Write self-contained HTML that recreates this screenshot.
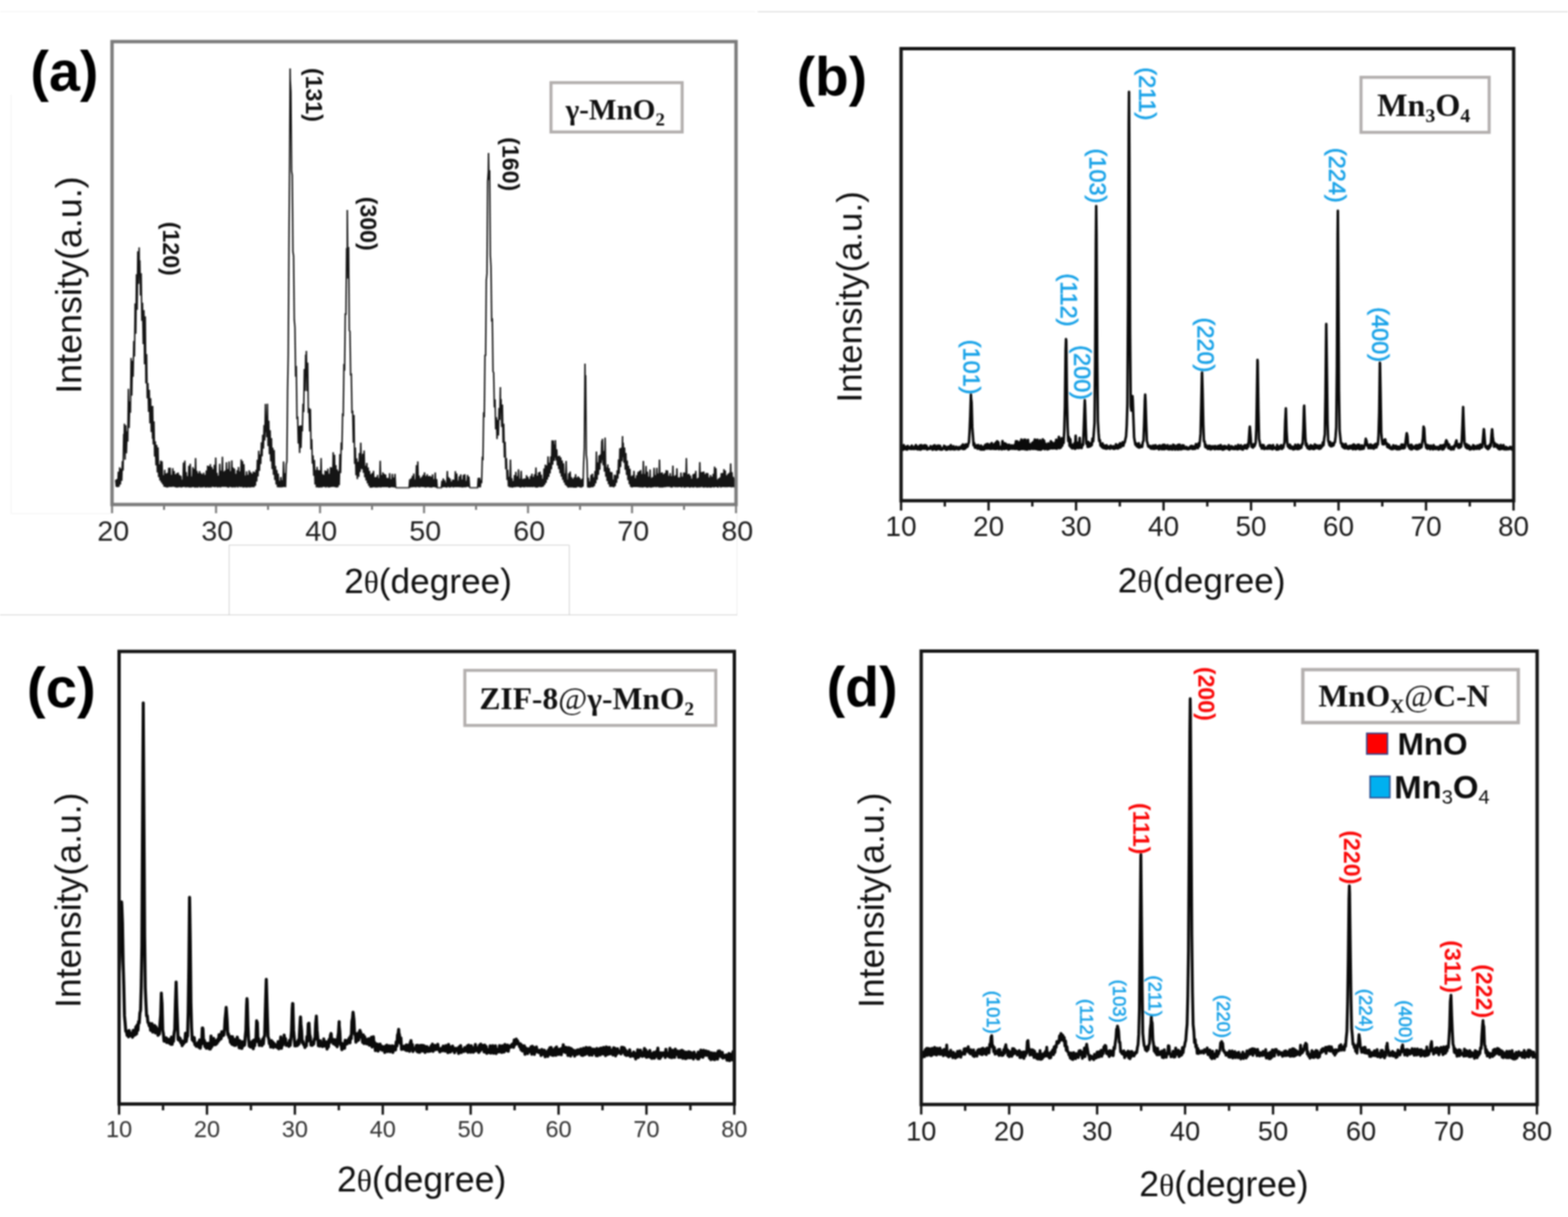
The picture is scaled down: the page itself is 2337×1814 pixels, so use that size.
<!DOCTYPE html>
<html><head><meta charset="utf-8"><title>XRD patterns</title>
<style>html,body{margin:0;padding:0;background:#fff;} body{width:2337px;height:1814px;overflow:hidden;} svg{display:block;filter:blur(0.8px);}</style>
</head><body>
<svg width="2337" height="1814" viewBox="0 0 2337 1814"><path d="M0,17.5 H1126" stroke="#f1f1f1" stroke-width="1.2" fill="none"/>
<path d="M1129,17.5 H2337" stroke="#cdcdcd" stroke-width="1.2" fill="none"/>
<path d="M0,916.5 H1099 M341.5,812.5 V916 M341,812.5 H848.5 M848.5,812.5 V916" stroke="#cbcbcb" stroke-width="1.1" fill="none"/>
<path d="M1098.5,766 V916" stroke="#ececec" stroke-width="1.1" fill="none"/>
<path d="M16.5,141 V765.5 H165" stroke="#f1f1f1" stroke-width="1.2" fill="none"/>
<path d="M172.4,715.1 L173.4,725.6 L174.4,714.2 L175.4,726.2 L176.4,703.1 L177.4,725.4 L178.4,696.5 L179.4,722.2 L180.4,698.6 L181.4,716.8 L182.4,687.3 L183.4,701.5 L184.4,646.7 L184.8,671 L185.4,631.4 L186.4,685.2 L187.4,633.8 L188.4,675.8 L189.4,642.8 L190.4,658.2 L191.4,579.6 L192.4,637.9 L193.4,598.3 L194.4,615.2 L195.4,533.6 L196.4,589.8 L197.4,537.7 L198.4,561.6 L199.4,508.2 L200.4,531.4 L201.4,452.2 L202.4,497.5 L203.4,408.8 L204.4,461.8 L205.4,374.4 L206.4,423.2 L207.4,368.7 L207.6,401.3 L208.4,387.9 L209.4,440.6 L210.4,407.2 L211.4,478.2 L212.4,451.3 L213.5,513.1 L214.5,462.3 L215.5,543 L216.5,471.6 L217.5,571.4 L218.5,527.7 L219.5,593.8 L220.5,571 L221.5,614 L222.5,581 L223.5,631 L224.5,593.5 L225.5,644.1 L226.5,605.2 L227.4,654 L227.5,605 L228.5,662.6 L229.5,628 L230.5,680.6 L231.5,657.9 L232.5,693.7 L233.5,663.1 L234.5,704.1 L235.5,666.7 L236.5,711.3 L237.5,692.1 L238.5,716.1 L239.5,686.5 L240.5,719.3 L241.5,687.6 L242.5,721.9 L243.5,708.3 L244.5,725.5 L245.5,700.2 L246.5,725.9 L247.5,705.8 L248.5,726.8 L249.5,704.9 L250.5,726.4 L251.5,697.4 L252.5,725.7 L253.5,697.1 L254.5,725.9 L255.5,707.9 L256.5,725.8 L257.5,697.8 L258.5,725.5 L259.5,702 L260.5,725.9 L261.5,707.1 L262.5,726.8 L263.5,705.3 L264.5,726.7 L265.5,704.2 L266.5,726.1 L267.5,707.9 L268.5,726.3 L269.5,709.2 L270.5,726.6 L271.5,715 L272.5,726 L273.5,689.5 L274.5,725.8 L275.5,686.6 L276.5,726.4 L277.5,703.6 L278.5,726.1 L279.5,709.7 L280.5,726.1 L281.5,694.2 L282.5,726.7 L283.5,691.4 L284.5,726.8 L285.5,710.2 L286.5,726.2 L287.5,696.4 L288.5,725.9 L289.5,698.7 L290.5,727 L291.5,682.8 L292.5,726.5 L293.5,701.8 L294.5,727 L295.5,705.2 L296.5,725.7 L297.5,702.1 L298.5,726.7 L299.5,705.3 L300.5,726.4 L301.5,706.9 L302.5,726.4 L303.5,704.5 L304.5,725.7 L305.5,707.9 L306.5,726.9 L307.5,701.3 L308.5,726.1 L309.5,694.1 L310.5,726.7 L311.5,694.7 L312.5,726.5 L313.5,691.9 L314.5,726.6 L315.5,696 L316.5,725.5 L317.5,699.2 L318.5,725.9 L319.5,692.8 L320.5,726.3 L321.5,682.1 L322.5,725.6 L323.5,704.7 L324.5,726.8 L325.5,709.1 L326.5,725.9 L327.5,691.2 L328.5,726.7 L329.5,701.5 L330.5,725.8 L331.5,680.8 L332.5,725.6 L333.5,702.9 L334.5,725.8 L335.5,701.4 L336.5,725.6 L337.5,689.1 L338.5,726.3 L339.5,699.4 L340.5,726.9 L341.5,687.7 L342.5,725.8 L343.5,702.2 L344.5,726.1 L345.5,686.3 L346.5,726.8 L347.5,696.8 L348.5,726.3 L349.5,698.6 L350.5,726.6 L351.5,706.3 L352.5,725.6 L353.5,700.9 L354.5,726.7 L355.5,696.1 L356.5,725.5 L357.5,702.6 L358.5,726.2 L359.5,684.7 L360.5,725.8 L361.5,687.3 L362.5,726.9 L363.5,691.7 L364.5,726.3 L365.5,708.9 L366.5,726.7 L367.5,702.5 L368.5,726.7 L369.5,707.8 L370.5,726.3 L371.5,701 L372.5,726.7 L373.6,703.9 L374.6,726.3 L375.6,706 L376.6,726.1 L377.6,702.9 L378.6,726.2 L379.6,703.9 L380.6,724.2 L381.6,700.3 L382.6,717.8 L383.6,685.4 L384.6,710.3 L385.6,671.8 L386.6,702 L387.6,677.3 L388.6,691.7 L389.6,659.4 L390.6,680.3 L391.6,648 L392.6,668.7 L393.6,633.5 L394.6,656.4 L395.6,602.1 L396.4,644.1 L396.6,620.2 L397.6,651.8 L398.6,601.8 L399.6,664.9 L400.6,627 L401.6,677.1 L402.6,641.3 L403.6,687.8 L404.6,653 L405.6,699.2 L406.6,667.2 L407.6,707.7 L408.6,670.7 L409.6,715.4 L410.6,694.5 L411.6,722.3 L412.6,700.5 L413.6,726.3 L414.6,705.7 L415.6,726.4 L416.6,716.9 L417.6,726.4 L418.6,711.1 L419.6,726.3 L420.6,715.9 L421.6,726.1 L422.6,687.9 L423.6,725.6 L424.6,705.2 L425.6,726.2 L426.6,692.2 L427.6,687.9 L428.6,582.8 L429.6,528.5 L430.6,370.5 L431.6,244.4 L432.4,102.1 L432.6,118.4 L433.6,137.4 L434.6,255 L435.6,261.1 L436.6,374.9 L437.6,381.9 L438.6,476.4 L439.6,488.2 L440.6,561.4 L441.6,545.4 L442.6,624.7 L443.6,620.7 L444.6,661.3 L445.6,635.1 L446.6,675.2 L447.6,634.1 L448.6,667.7 L449.6,634.2 L450.6,642.9 L451.6,601.9 L452.6,614.3 L453.6,550 L454.6,582.7 L455.6,528.5 L456.1,559 L456.6,522.9 L457.6,583.1 L458.6,540.4 L459.6,615.6 L460.6,608.1 L461.6,643.3 L462.6,609.6 L463.6,670 L464.6,654.6 L465.6,691.1 L466.6,678.9 L467.6,709.3 L468.6,685.6 L469.6,722.1 L470.6,700.5 L471.6,726.5 L472.6,695.8 L473.6,726.4 L474.6,700.6 L475.6,727 L476.6,701.1 L477.6,726.4 L478.6,682.9 L479.6,726.7 L480.6,706.5 L481.6,725.7 L482.6,707.9 L483.6,725.7 L484.6,701.3 L485.6,726.7 L486.6,702 L487.6,725.8 L488.6,698.5 L489.6,726.8 L490.6,706.2 L491.6,726.4 L492.6,696.4 L493.6,726 L494.6,696.8 L495.6,725.7 L496.6,674.1 L497.6,725.7 L498.6,677.8 L499.6,726.3 L500.6,693.4 L501.6,726.7 L502.6,699.8 L503.6,726.1 L504.6,702.2 L505.6,723.2 L506.6,676.8 L507.6,705.3 L508.6,659.4 L509.6,670.7 L510.6,617.9 L511.6,618.6 L512.6,542.6 L513.6,552.4 L514.6,467.1 L515.6,469.2 L516.6,370.9 L517.6,371.2 L517.6,313 L518.6,415.3 L519.6,368.3 L520.6,492.7 L521.6,493.9 L522.6,559.7 L523.6,556.4 L524.6,616 L525.6,612.1 L526.6,659.9 L527.6,618.4 L528.6,691.4 L529.6,667.1 L530.6,708.5 L531.6,683.3 L532.6,714.2 L533.6,688.2 L534.7,710.8 L535.7,675.4 L536.7,703.5 L537.7,659.8 L538.7,697.1 L539,697 L539.7,699.2 L540.7,676.4 L541.7,704.6 L542.7,671.6 L543.7,711.4 L544.7,694.4 L545.7,716.3 L546.7,690.1 L547.7,720.5 L548.7,696.8 L549.7,724.2 L550.7,701.8 L551.7,726.9 L552.7,706.8 L553.7,727 L554.7,705 L555.7,726.4 L556.7,701.7 L557.7,726.1 L558.7,711.2 L559.7,726.6 L560.7,711.1 L561.7,726.8 L562.7,707.8 L563.7,726.3 L564.7,712.5 L565.7,726.2 L566.7,686.9 L567.7,726.8 L568.7,708 L569.7,726 L570.7,704 L571.7,726.3 L572.7,706.4 L573.7,725.9 L574.7,707.2 L575.7,726.2 L576.7,712.4 L577.7,726 L578.7,712.6 L579.7,726.9 L580.7,705.2 L581.7,726.6 L582.7,714.4 L583.7,726 L584.7,706.2 L585.7,726.5 L586.7,711.7 L587.7,726.4 L588.7,706.4 L589.7,726.2 L590.7,727 L591.7,727 L592.7,727 L593.7,727 L594.7,727 L595.7,727 L596.7,727 L597.7,727 L598.7,727 L599.7,727 L600.7,727 L601.7,727 L602.7,727 L603.7,727 L604.7,727 L605.7,727 L606.7,727 L607.7,727 L608.7,727 L609.7,727 L610.7,714.6 L611.7,726.6 L612.7,712.8 L613.7,726.3 L614.7,709.3 L615.7,726.2 L616.7,705.7 L617.7,726 L618.7,714.9 L619.7,726.4 L620.7,693.3 L621.7,725.6 L622.7,687.9 L623.7,726.3 L624.7,708.8 L625.7,726.4 L626.7,712.5 L627.7,725.6 L628.7,710.5 L629.7,725.9 L630.7,707.8 L631.7,725.9 L632.7,704 L633.7,726.8 L634.7,709.6 L635.7,726.4 L636.7,706.9 L637.7,725.9 L638.7,709.7 L639.7,726.5 L640.7,709.3 L641.7,726.7 L642.7,710.5 L643.7,726.8 L644.7,707 L645.7,725.9 L646.7,714.3 L647.7,726.1 L648.7,704.4 L649.7,726.7 L650.7,714 L651.7,727 L652.7,727 L653.7,727 L654.7,727 L655.7,727 L656.7,727 L657.7,727 L658.7,716.6 L659.7,726.3 L660.7,713.1 L661.7,726.1 L662.7,715.9 L663.7,726.1 L664.7,719.3 L665.7,726.9 L666.7,702 L667.7,725.6 L668.7,711.3 L669.7,726.6 L670.7,713.3 L671.7,726.3 L672.7,717.9 L673.7,725.6 L674.7,714.9 L675.7,726.6 L676.7,715.2 L677.7,725.8 L678.7,702.2 L679.7,726.3 L680.7,705.7 L681.7,725.9 L682.7,716.6 L683.7,726.1 L684.7,709.9 L685.7,726.2 L686.7,707.1 L687.7,726.4 L688.7,714.9 L689.7,726.7 L690.7,707.9 L691.7,726.1 L692.7,706.8 L693.7,726.4 L694.7,716.9 L695.8,725.7 L696.8,707.8 L697.8,725.8 L698.8,710.4 L699.8,725.9 L700.8,727 L701.8,727 L702.8,727 L703.8,727 L704.8,727 L705.8,727 L706.8,727 L707.8,727 L708.8,727 L709.8,727 L710.8,727 L711.8,727 L712.8,712.3 L713.8,726.1 L714.8,712 L715.8,726.4 L716.8,715.5 L717.8,720.3 L718.8,684 L719.8,685.9 L720.8,614.4 L721.8,621.9 L722.8,529.7 L723.8,529.6 L724.8,417.5 L725.8,407.5 L726.8,270.4 L727.8,255.5 L728.1,228.1 L728.8,268.2 L729.8,253.8 L730.8,380.5 L731.8,397.7 L732.8,477.4 L733.8,476.5 L734.8,553.8 L735.8,555.5 L736.8,607.3 L737.8,595.3 L738.8,639.9 L739.8,621.7 L740.8,654.5 L741.8,625.9 L742.8,649.3 L743.8,608 L744.8,626 L745.8,577.1 L745.9,612.1 L746.8,594.8 L747.8,636.5 L748.8,603 L749.8,660.1 L750.8,631.4 L751.8,681.9 L752.8,658.5 L753.8,699.5 L754.8,682.7 L755.8,715.4 L756.8,700.3 L757.8,725.3 L758.8,710.9 L759.8,726.4 L760.8,685 L761.8,726.5 L762.8,712.8 L763.8,727 L764.8,717 L765.8,726.2 L766.8,708 L767.8,726.3 L768.8,703.3 L769.8,725.6 L770.8,709.7 L771.8,725.7 L772.8,699.6 L773.8,725.9 L774.8,713.5 L775.8,726.9 L776.8,701.7 L777.8,725.8 L778.8,714.3 L779.8,726.2 L780.8,713.3 L781.8,726.3 L782.8,713.4 L783.8,725.7 L784.8,708.4 L785.8,726.2 L786.8,710.8 L787.8,725.9 L788.8,714 L789.8,726.1 L790.8,709.5 L791.8,725.9 L792.8,706 L793.8,726.2 L794.8,710.9 L795.8,725.8 L796.8,706.9 L797.8,726.4 L798.8,696.7 L799.8,727 L800.8,709.1 L801.8,726.5 L802.8,704.1 L803.8,725.6 L804.8,703.1 L805.8,726.1 L806.8,707.6 L807.8,725.8 L808.8,713.9 L809.8,725.2 L810.8,698.2 L811.8,722.8 L812.8,692.5 L813.8,719.6 L814.8,693.7 L815.8,715 L816.8,680.4 L817.8,710.9 L818.8,689.9 L819.8,705.8 L820.8,680.4 L821.8,699.5 L822.8,656.4 L823.8,692.6 L824.8,656.5 L825.8,687 L826.8,662.5 L827.3,682.1 L827.8,656.1 L828.8,686.5 L829.8,669.8 L830.8,693.8 L831.8,680.1 L832.8,699.3 L833.8,679.4 L834.8,705.5 L835.8,681.8 L836.8,710.4 L837.8,686.3 L838.8,715.3 L839.8,690.5 L840.8,719.3 L841.8,705.9 L842.8,723 L843.8,687.1 L844.8,724.8 L845.8,715.1 L846.8,726.9 L847.8,705.4 L848.8,726.5 L849.8,702.7 L850.8,726.8 L851.8,711.3 L852.8,726.3 L853.8,713.7 L854.8,727 L855.9,711.3 L856.9,726.9 L857.9,706.7 L858.9,727 L859.9,711.8 L860.9,725.6 L861.9,710.1 L862.9,725.9 L863.9,712.1 L864.9,726.7 L865.9,714.5 L866.9,726.6 L867.9,713.4 L868.9,725.5 L869.9,689.8 L870.9,667 L871.9,541.9 L872.2,575.4 L872.9,559.2 L873.9,678.2 L874.9,686.1 L875.9,726.4 L876.9,712.4 L877.9,726.9 L878.9,717.9 L879.9,726.7 L880.9,707.9 L881.9,726.2 L882.9,706 L883.9,726.3 L884.9,711.5 L885.9,724.5 L886.9,702.1 L887.9,720.4 L888.9,673.1 L889.9,715.1 L890.9,689.3 L891.9,707.8 L892.9,678.8 L893.9,700.3 L894.9,677.2 L895.9,690.2 L896.9,656.7 L897,685.8 L897.9,654.1 L898.9,693.5 L899.9,672.4 L900.9,702.9 L901.9,652.2 L902.9,710.5 L903.9,696.5 L904.9,717 L905.9,692.2 L906.9,721.7 L907.9,697.9 L908.9,725.6 L909.9,703.3 L910.9,725.6 L911.9,703.7 L912.9,725.6 L913.9,715.2 L914.9,726.4 L915.9,707.6 L916.9,724.8 L917.9,708.2 L918.9,719.6 L919.9,701 L920.9,713.5 L921.9,684.7 L922.9,706.3 L923.9,668.4 L924.9,696.3 L925.9,667.3 L926.9,687.4 L927.9,650.1 L928,681.3 L928.9,659.7 L929.9,689.8 L930.9,667.1 L931.9,700.1 L932.9,675.3 L933.9,708 L934.9,686.6 L935.9,715.6 L936.9,694.4 L937.9,721.6 L938.9,698.7 L939.9,725.6 L940.9,709.6 L941.9,726.6 L942.9,708.6 L943.9,725.9 L944.9,701.9 L945.9,725.9 L946.9,712.9 L947.9,726 L948.9,708.2 L949.9,726 L950.9,703.5 L951.9,726.3 L952.9,702 L953.9,726.4 L954.9,700.6 L955.9,726.4 L956.9,706.5 L957.9,726.8 L958.9,687 L959.9,726.3 L960.9,706.5 L961.9,725.9 L962.9,694.5 L963.9,726.9 L964.9,703 L965.9,726.7 L966.9,710.5 L967.9,726.3 L968.9,699.7 L969.9,726.9 L970.9,712.3 L971.9,726.4 L972.9,711 L973.9,726.3 L974.9,697.3 L975.9,725.8 L976.9,708.2 L977.9,726.3 L978.9,697.3 L979.9,725.6 L980.9,705.9 L981.9,726.4 L982.9,685.1 L983.9,726.6 L984.9,704.9 L985.9,726.6 L986.9,704.1 L987.9,726.7 L988.9,706.8 L989.9,726.1 L990.9,705.1 L991.9,726.1 L992.9,700.9 L993.9,725.7 L994.9,701.4 L995.9,725.8 L996.9,709.3 L997.9,725.6 L998.9,705.3 L999.9,726.7 L1000.9,709.7 L1001.9,726.7 L1002.9,694.1 L1003.9,725.5 L1004.9,709.6 L1005.9,726.2 L1006.9,708.2 L1007.9,726.1 L1008.9,698 L1009.9,726.3 L1010.9,711.7 L1011.9,725.8 L1012.9,711.7 L1013.9,725.9 L1014.9,704.3 L1015.9,726.7 L1017,710.6 L1018,725.6 L1019,704.4 L1020,726.9 L1021,704.5 L1022,726.4 L1023,682.9 L1024,726.3 L1025,706.7 L1026,725.9 L1027,706.3 L1028,726.9 L1029,708.8 L1030,726.1 L1031,713.7 L1032,726.5 L1033,706.9 L1034,726.8 L1035,705.7 L1036,725.8 L1037,701.7 L1038,726.6 L1039,713.4 L1040,726.6 L1041,712.2 L1042,726.4 L1043,688.7 L1044,726.5 L1045,703.7 L1046,725.6 L1047,703.4 L1048,726.6 L1049,702.9 L1050,726.7 L1051,706.6 L1052,726.2 L1053,704.7 L1054,726.9 L1055,705.2 L1056,726.4 L1057,711.5 L1058,726.6 L1059,708.1 L1060,726.9 L1061,710.5 L1062,726 L1063,706.2 L1064,726.8 L1065,695.5 L1066,725.9 L1067,697.8 L1068,725.8 L1069,714.9 L1070,726.9 L1071,713 L1072,725.5 L1073,711.6 L1074,726.8 L1075,705.4 L1076,726.1 L1077,705 L1078,725.9 L1079,699.4 L1080,726.3 L1081,701.2 L1082,726.3 L1083,708.5 L1084,726.1 L1085,706.2 L1086,726 L1087,704.5 L1088,726 L1089,690.8 L1090,726.5 L1091,703.9 L1092,726.1 L1093,710.7 L1094,726.3 L1095,712.8 L1096,726.7 L1097,707.7" stroke="#151515" stroke-width="2.2" fill="none" stroke-linejoin="miter"/>
<path d="M590.1,727.8 H610.3 M651.4,727.8 H658.4 M700.2,727.8 H712.6" stroke="#888" stroke-width="1.5"/>
<rect x="167" y="62" width="930" height="690" fill="none" stroke="#7b7b7b" stroke-width="5"/>
<path d="M167,752 V765 M244.5,752 V760 M322,752 V765 M399.5,752 V760 M477,752 V765 M554.5,752 V760 M632,752 V765 M709.5,752 V760 M787,752 V765 M864.5,752 V760 M942,752 V765 M1019.5,752 V760 M1097,752 V765" stroke="#7b7b7b" stroke-width="3" fill="none"/>
<text x="168.8" y="806" font-family="'Liberation Sans', Arial, sans-serif" font-size="42.8" font-weight="normal" fill="#222" text-anchor="middle" >20</text>
<text x="323.8" y="806" font-family="'Liberation Sans', Arial, sans-serif" font-size="42.8" font-weight="normal" fill="#222" text-anchor="middle" >30</text>
<text x="478.8" y="806" font-family="'Liberation Sans', Arial, sans-serif" font-size="42.8" font-weight="normal" fill="#222" text-anchor="middle" >40</text>
<text x="633.8" y="806" font-family="'Liberation Sans', Arial, sans-serif" font-size="42.8" font-weight="normal" fill="#222" text-anchor="middle" >50</text>
<text x="788.8" y="806" font-family="'Liberation Sans', Arial, sans-serif" font-size="42.8" font-weight="normal" fill="#222" text-anchor="middle" >60</text>
<text x="943.8" y="806" font-family="'Liberation Sans', Arial, sans-serif" font-size="42.8" font-weight="normal" fill="#222" text-anchor="middle" >70</text>
<text x="1098.8" y="806" font-family="'Liberation Sans', Arial, sans-serif" font-size="42.8" font-weight="normal" fill="#222" text-anchor="middle" >80</text>
<text x="513" y="883.6" font-family="'Liberation Sans', Arial, sans-serif" font-size="52.5" fill="#111">2<tspan font-family="'Liberation Serif', 'Times New Roman', serif" font-size="46.7">θ</tspan>(degree)</text>
<text transform="translate(121,425) rotate(-90)" font-family="'Liberation Sans', Arial, sans-serif" font-size="53.5" font-weight="normal" fill="#111" text-anchor="middle">Intensity(a.u.)</text>
<text x="45.3" y="135.2" font-family="'Liberation Sans', Arial, sans-serif" font-size="83" font-weight="bold" fill="#000" text-anchor="start" >(a)</text>
<rect x="821.2" y="123.2" width="195.5" height="73.5" fill="#fff" stroke="#b3afae" stroke-width="4.5"/>
<text x="843" y="177.6" font-family="'Liberation Serif', 'Times New Roman', serif" font-size="43.5" font-weight="bold" fill="#111">γ-MnO<tspan font-size="28" dy="9">2</tspan></text>
<text transform="translate(243.2,370.8) rotate(90)" font-family="'Liberation Sans', Arial, sans-serif" font-size="34.5" font-weight="bold" fill="#111" text-anchor="middle">(120)</text>
<text transform="translate(455.8,141.5) rotate(90)" font-family="'Liberation Sans', Arial, sans-serif" font-size="34.5" font-weight="bold" fill="#111" text-anchor="middle">(131)</text>
<text transform="translate(536.9,333.5) rotate(90)" font-family="'Liberation Sans', Arial, sans-serif" font-size="34.5" font-weight="bold" fill="#111" text-anchor="middle">(300)</text>
<text transform="translate(749,244.8) rotate(90)" font-family="'Liberation Sans', Arial, sans-serif" font-size="34.5" font-weight="bold" fill="#111" text-anchor="middle">(160)</text>
<path d="M1343,666.9 L1344,670.1 L1345,666.4 L1346,670.3 L1347,663.5 L1348,669.4 L1349,667.7 L1350,669.6 L1351,665.8 L1352,670.1 L1353,664.7 L1354,668.7 L1355,667.9 L1356,668.7 L1357,666.1 L1358,669.2 L1359,664.1 L1360,669 L1361,668.1 L1362,669.3 L1363,666 L1364,668.9 L1365,663.4 L1366,669.1 L1367,665.4 L1368,669.9 L1369,667.1 L1370,669.5 L1371,664 L1372,670.3 L1373,663.5 L1374,669.1 L1375,665 L1376,668.6 L1377,663.9 L1378,669 L1379,663.6 L1380,668.7 L1381,664.6 L1382,670.1 L1383,667.8 L1384,669.1 L1385,667.8 L1386,668.9 L1387,665 L1388,668.6 L1389,667.5 L1390,670.3 L1391,664.6 L1392,668.9 L1393,663.7 L1394,669.9 L1395,667.4 L1396,670.3 L1397,664.3 L1398,669 L1399,664.1 L1400,669.5 L1401.1,664.6 L1402.1,670.1 L1403.1,668 L1404.1,670.1 L1405.1,667.9 L1406.1,668.6 L1407.1,664.5 L1408.1,668.8 L1409.1,665.6 L1410.1,670.3 L1411.1,667.8 L1412.1,670.1 L1413.1,666 L1414.1,668.8 L1415.1,665.7 L1416.1,669.8 L1417.1,663.5 L1418.1,669.5 L1419.1,666 L1420.1,669.3 L1421.1,665.2 L1422.1,669.9 L1423.1,668.1 L1424.1,669.6 L1425.1,665.9 L1426.1,668.6 L1427.1,667.8 L1428.1,669.8 L1429.1,666.4 L1430.1,669.4 L1431.1,667.2 L1432.1,668.1 L1433.1,664.6 L1434.1,668.8 L1435.1,662.5 L1436.1,669.4 L1437.1,667.3 L1438.1,668.9 L1439.1,662.5 L1440.1,667.2 L1441.1,662.5 L1442.1,665.8 L1443.1,661.7 L1444.1,659.3 L1445.1,643.7 L1446.1,620.1 L1447.1,588.2 L1447.3,593.8 L1448.1,599.8 L1449.1,636.4 L1450.1,649.9 L1451.1,663.9 L1452.1,660.9 L1453.1,667.3 L1454.1,664.8 L1455.1,667.2 L1456.1,663.8 L1457.1,668.8 L1458.1,663.3 L1459.1,668.3 L1460.1,666.5 L1461.1,669.9 L1462.1,664.1 L1463.1,670.1 L1464.1,666 L1465.1,670.1 L1466.1,666.3 L1467.1,670 L1468.1,663.4 L1469.1,668.5 L1470.1,662.1 L1471.1,668.8 L1472.1,661.6 L1473.1,668.4 L1474.1,664 L1475.1,668.9 L1476.1,662.2 L1477.1,669 L1478.1,660.4 L1479.1,668.7 L1480.1,666.1 L1481.1,669 L1482.1,661.9 L1483.1,669.2 L1484.1,659.8 L1485.1,669.2 L1486.1,657.6 L1487.1,668.5 L1488.1,659.2 L1489.1,669.6 L1490.1,666 L1491.1,668.6 L1492.1,666 L1493.1,669.8 L1494.1,657.4 L1495.1,668.8 L1496.1,660.6 L1497.1,669.4 L1498.1,660.9 L1499.1,668.7 L1500.1,662.5 L1501.1,668.6 L1502.1,663.4 L1503.1,670.2 L1504.1,662.9 L1505.1,669.2 L1506.1,664.6 L1507.1,668.6 L1508.1,663.8 L1509.1,668.9 L1510.1,664.9 L1511.1,668.7 L1512.1,663.1 L1513.1,669.2 L1514.2,657.7 L1515.2,668.7 L1516.2,657.9 L1517.2,669.5 L1518.2,662.3 L1519.2,670.1 L1520.2,658.7 L1521.2,669.4 L1522.2,655.2 L1523.2,669.1 L1524.2,664.3 L1525.2,669 L1526.2,655.5 L1527.2,669.7 L1528.2,655.3 L1529.2,669.9 L1530.2,660.3 L1531.2,670.1 L1532.2,655.6 L1533.2,668.8 L1534.2,661.9 L1535.2,669.6 L1536.2,663.2 L1537.2,668.6 L1538.2,660.5 L1539.2,669 L1540.2,658.9 L1541.2,668.8 L1542.2,655.1 L1543.2,669.1 L1544.2,656.1 L1545.2,669.3 L1546.2,655.4 L1547.2,670 L1548.2,661.4 L1549.2,670.1 L1550.2,656.2 L1551.2,670.3 L1552.2,661.5 L1553.2,669 L1554.2,654.9 L1555.2,668.4 L1556.2,656.9 L1557.2,669.6 L1558.2,661.5 L1559.2,668.6 L1560.2,663.8 L1561.2,669.9 L1562.2,660.8 L1563.2,669.2 L1564.2,665 L1565.2,668.2 L1566.2,657.6 L1567.2,668.2 L1568.2,659.7 L1569.2,668.3 L1570.2,662.6 L1571.2,668 L1572.2,660 L1573.2,668.3 L1574.2,655.5 L1575.2,668.8 L1576.2,662.6 L1577.2,667.4 L1578.2,651.2 L1579.2,668.1 L1580.2,655.7 L1581.2,667 L1582.2,653.2 L1583.2,664.3 L1584.2,655.7 L1585.2,660.2 L1586.2,643 L1587.2,606 L1588.2,522.9 L1588.8,505.5 L1589.2,508.3 L1590.2,594.2 L1591.2,636 L1592.2,657.5 L1593.2,651.4 L1594.2,664.7 L1595.2,654.6 L1596.2,666.9 L1597.2,662.6 L1598.2,668.3 L1599.2,664.5 L1600.2,667.7 L1601.2,660.8 L1602.2,669.1 L1603.2,649.3 L1604.2,667.8 L1605.2,660.3 L1606.2,667.6 L1607.2,659.6 L1608.2,667.8 L1609.2,652.7 L1610.2,667 L1611.2,663.4 L1612.2,667.7 L1613.2,662.4 L1614.2,663.2 L1615.2,641.8 L1616.2,612.4 L1616.8,596.5 L1617.2,603.4 L1618.2,636.4 L1619.2,661.4 L1620.2,660.6 L1621.2,666.2 L1622.2,658.7 L1623.2,665.8 L1624.2,661 L1625.2,665.1 L1626.2,660.4 L1627.2,663.6 L1628.2,653.7 L1629.3,657.9 L1630.3,644.3 L1631.3,630.6 L1632.3,541.1 L1633.3,362.7 L1633.8,307.2 L1634.3,348.7 L1635.3,533 L1636.3,627.5 L1637.3,645.2 L1638.3,657.4 L1639.3,656 L1640.3,664.3 L1641.3,662.8 L1642.3,666.6 L1643.3,660.9 L1644.3,667.8 L1645.3,663.8 L1646.3,668.1 L1647.3,664.4 L1648.3,668.7 L1649.3,663.6 L1650.3,668.6 L1651.3,665.6 L1652.3,667.9 L1653.3,666 L1654.3,668.9 L1655.3,664.1 L1656.3,667.6 L1657.3,665.8 L1658.3,668.4 L1659.3,665.1 L1660.3,669.1 L1661.3,665.6 L1662.3,668.5 L1663.3,662.1 L1664.3,668 L1665.3,665.7 L1666.3,668.5 L1667.3,662.9 L1668.3,667.2 L1669.3,660.7 L1670.3,666.7 L1671.3,661.8 L1672.3,664.7 L1673.3,659 L1674.3,664.5 L1675.3,659.9 L1676.3,659.3 L1677.3,654.6 L1678.3,650.5 L1679.3,634.6 L1680.3,601.2 L1681.3,453.4 L1682.3,184.1 L1682.7,136.8 L1683.3,235.4 L1684.3,497.3 L1685.3,606.1 L1686.3,612 L1687.3,596 L1687.9,590.3 L1688.3,596 L1689.3,624.6 L1690.3,651.9 L1691.3,657.7 L1692.3,662.8 L1693.3,660.7 L1694.3,665 L1695.3,664.2 L1696.3,666.5 L1697.3,660.6 L1698.3,667.2 L1699.3,665 L1700.3,666.1 L1701.3,663.7 L1702.3,666 L1703.3,659 L1704.3,656.9 L1705.3,631.9 L1706.3,597.1 L1706.8,588.2 L1707.3,597.3 L1708.3,630.5 L1709.3,657.4 L1710.3,660.5 L1711.3,665.5 L1712.3,664.6 L1713.3,666.8 L1714.3,664.8 L1715.3,668.6 L1716.3,665.6 L1717.3,668.6 L1718.3,664.3 L1719.3,669 L1720.3,664.1 L1721.3,668.8 L1722.3,663.7 L1723.3,668.4 L1724.3,665.6 L1725.3,668.4 L1726.3,665 L1727.3,669.9 L1728.3,663.8 L1729.3,668.6 L1730.3,665.5 L1731.3,669.6 L1732.3,663.6 L1733.3,669.3 L1734.3,663 L1735.3,669.7 L1736.3,663.4 L1737.3,668.9 L1738.3,667.4 L1739.3,668.7 L1740.3,663.5 L1741.3,669.7 L1742.3,666.2 L1743.4,669.8 L1744.4,664.3 L1745.4,669.3 L1746.4,667.6 L1747.4,670.1 L1748.4,662.9 L1749.4,668.5 L1750.4,663.8 L1751.4,670.2 L1752.4,666 L1753.4,668.7 L1754.4,663.9 L1755.4,670.1 L1756.4,663 L1757.4,669.6 L1758.4,663 L1759.4,669.7 L1760.4,665.8 L1761.4,669.5 L1762.4,663.7 L1763.4,668.6 L1764.4,664.2 L1765.4,668.9 L1766.4,667.6 L1767.4,668.7 L1768.4,666.2 L1769.4,669.5 L1770.4,667.7 L1771.4,669.6 L1772.4,667.3 L1773.4,668.7 L1774.4,665.2 L1775.4,668.3 L1776.4,664.6 L1777.4,669.2 L1778.4,665.7 L1779.4,669 L1780.4,665.5 L1781.4,669 L1782.4,661.9 L1783.4,667.1 L1784.4,662.9 L1785.4,668 L1786.4,660.7 L1787.4,665.2 L1788.4,657.4 L1789.4,646.4 L1790.4,603.3 L1791.4,556.2 L1791.6,555.3 L1792.4,583.3 L1793.4,632.2 L1794.4,657.9 L1795.4,658 L1796.4,666.3 L1797.4,663 L1798.4,667.4 L1799.4,666 L1800.4,669.1 L1801.4,664.4 L1802.4,668.6 L1803.4,664.6 L1804.4,669.8 L1805.4,665.8 L1806.4,669 L1807.4,665.2 L1808.4,668.3 L1809.4,665.4 L1810.4,669.6 L1811.4,664.8 L1812.4,668.9 L1813.4,667.8 L1814.4,669.2 L1815.4,664.6 L1816.4,669.2 L1817.4,664.4 L1818.4,669.1 L1819.4,663.3 L1820.4,669.2 L1821.4,665.9 L1822.4,670.2 L1823.4,665.1 L1824.4,669.7 L1825.4,664.8 L1826.4,668.7 L1827.4,665.5 L1828.4,668.4 L1829.4,667.4 L1830.4,669.2 L1831.4,663.5 L1832.4,670.3 L1833.4,666 L1834.4,668.8 L1835.4,665.2 L1836.4,668.9 L1837.4,666.1 L1838.4,669.3 L1839.4,667.8 L1840.4,669.3 L1841.4,664.8 L1842.4,669 L1843.4,666.9 L1844.4,669.7 L1845.4,663.1 L1846.4,669.1 L1847.4,666.6 L1848.4,668.6 L1849.4,663.6 L1850.4,669.5 L1851.4,667.1 L1852.4,670.1 L1853.4,664.9 L1854.4,668.1 L1855.4,663.5 L1856.4,668.1 L1857.5,663.6 L1858.5,668.7 L1859.5,662.2 L1860.5,666 L1861.5,653 L1862.5,638 L1862.8,635.8 L1863.5,644.9 L1864.5,658.2 L1865.5,666 L1866.5,664.3 L1867.5,667.2 L1868.5,662.1 L1869.5,665.3 L1870.5,663 L1871.5,660 L1872.5,639.1 L1873.5,580.5 L1874.2,536.5 L1874.5,539.8 L1875.5,609 L1876.5,654.6 L1877.5,658.7 L1878.5,664.9 L1879.5,664.1 L1880.5,668.5 L1881.5,663.1 L1882.5,668.3 L1883.5,663.7 L1884.5,669.3 L1885.5,667 L1886.5,668.5 L1887.5,667.4 L1888.5,668.9 L1889.5,664.9 L1890.5,668.6 L1891.5,663.8 L1892.5,668.6 L1893.5,663.9 L1894.5,668.9 L1895.5,665.2 L1896.5,669.6 L1897.5,663.3 L1898.5,668.7 L1899.5,666.8 L1900.5,668.2 L1901.5,667.2 L1902.5,670.1 L1903.5,663.2 L1904.5,670.1 L1905.5,667.8 L1906.5,669.3 L1907.5,665.1 L1908.5,667.9 L1909.5,663.5 L1910.5,669.2 L1911.5,665 L1912.5,667.6 L1913.5,662.6 L1914.5,659.8 L1915.5,628.1 L1916.4,611.1 L1916.5,608.6 L1917.5,642.6 L1918.5,658.6 L1919.5,665.5 L1920.5,665.8 L1921.5,667.7 L1922.5,662.8 L1923.5,668.5 L1924.5,665.4 L1925.5,668.6 L1926.5,666.3 L1927.5,669.9 L1928.5,665.9 L1929.5,669.4 L1930.5,663 L1931.5,668.6 L1932.5,666.6 L1933.5,669.4 L1934.5,662.7 L1935.5,669.3 L1936.5,663.9 L1937.5,668.4 L1938.5,666 L1939.5,667.3 L1940.5,661.6 L1941.5,661.8 L1942.5,641.1 L1943.5,606.9 L1943.8,604.7 L1944.5,625.5 L1945.5,651.8 L1946.5,664 L1947.5,661.2 L1948.5,667.6 L1949.5,665 L1950.5,669 L1951.5,665.6 L1952.5,669.4 L1953.5,663.5 L1954.5,668 L1955.5,664.6 L1956.5,669 L1957.5,665.6 L1958.5,669.4 L1959.5,662.4 L1960.5,668.1 L1961.5,663.6 L1962.5,667.7 L1963.5,664.3 L1964.5,668.2 L1965.5,664.4 L1966.5,669 L1967.5,663.9 L1968.5,668.3 L1969.5,664.5 L1970.5,665.7 L1971.6,659.3 L1972.6,663.7 L1973.6,653.7 L1974.6,647.6 L1975.6,585.5 L1976.6,486.9 L1976.7,482.8 L1977.6,549.3 L1978.6,629.4 L1979.6,656.7 L1980.6,659.8 L1981.6,663.8 L1982.6,658.8 L1983.6,665.3 L1984.6,662.6 L1985.6,664.9 L1986.6,660.7 L1987.6,663.9 L1988.6,659.8 L1989.6,659.2 L1990.6,651 L1991.6,636.6 L1992.6,546.3 L1993.6,351.3 L1994,314.2 L1994.6,396.6 L1995.6,581.6 L1996.6,642 L1997.6,651.4 L1998.6,660.7 L1999.6,660.7 L2000.6,665.7 L2001.6,661.7 L2002.6,667.5 L2003.6,665.8 L2004.6,668.4 L2005.6,661.7 L2006.6,667.7 L2007.6,664.9 L2008.6,668.8 L2009.6,665.9 L2010.6,668.8 L2011.6,664.5 L2012.6,668.1 L2013.6,664.7 L2014.6,668.2 L2015.6,663.7 L2016.6,669.6 L2017.6,662.5 L2018.6,668.9 L2019.6,663.7 L2020.6,669.7 L2021.6,665.3 L2022.6,668.6 L2023.6,662.9 L2024.6,668.7 L2025.6,662.8 L2026.6,669.7 L2027.6,665.1 L2028.6,669.3 L2029.6,663.8 L2030.6,669.1 L2031.6,665.2 L2032.6,668.6 L2033.6,664.2 L2034.6,661.7 L2035.6,654 L2035.9,656.5 L2036.6,656.4 L2037.6,664.2 L2038.6,662.4 L2039.6,668 L2040.6,664.2 L2041.6,667.7 L2042.6,662.3 L2043.6,668.1 L2044.6,663.6 L2045.6,667.8 L2046.6,664.4 L2047.6,668.8 L2048.6,662.7 L2049.6,667.3 L2050.6,661.3 L2051.6,666.8 L2052.6,662.2 L2053.6,662.7 L2054.6,648.8 L2055.6,615.2 L2056.6,540.7 L2056.8,541.7 L2057.6,584.1 L2058.6,644.8 L2059.6,655.4 L2060.6,662 L2061.6,660 L2062.6,662.2 L2063.6,655.3 L2064.1,661.1 L2064.6,654.9 L2065.6,661.5 L2066.6,660.4 L2067.6,666 L2068.6,662.1 L2069.6,667.2 L2070.6,663.4 L2071.6,668.2 L2072.6,666.4 L2073.6,669.4 L2074.6,666.8 L2075.6,669.4 L2076.6,663.7 L2077.6,668.6 L2078.6,665 L2079.6,668.6 L2080.6,664.4 L2081.6,669.5 L2082.6,665.8 L2083.6,669.7 L2084.7,665.7 L2085.7,669.6 L2086.7,667.3 L2087.7,668.7 L2088.7,662.6 L2089.7,668.1 L2090.7,662.7 L2091.7,668.4 L2092.7,666.5 L2093.7,667.6 L2094.7,660.6 L2095.7,652.2 L2096.5,646.3 L2096.7,645.8 L2097.7,650 L2098.7,665.1 L2099.7,664.4 L2100.7,668.4 L2101.7,663.4 L2102.7,669.6 L2103.7,662.9 L2104.7,669.7 L2105.7,665.2 L2106.7,668.1 L2107.7,667.2 L2108.7,668.2 L2109.7,664.3 L2110.7,669.4 L2111.7,663.5 L2112.7,669.6 L2113.7,663.8 L2114.7,668.8 L2115.7,662.4 L2116.7,667.9 L2117.7,666.6 L2118.7,666.5 L2119.7,659.6 L2120.7,653.4 L2121.7,635.8 L2122,636.6 L2122.7,638.7 L2123.7,657.1 L2124.7,662.4 L2125.7,667.5 L2126.7,663.3 L2127.7,669 L2128.7,663.7 L2129.7,668 L2130.7,664.9 L2131.7,669.7 L2132.7,664.2 L2133.7,668.3 L2134.7,665.8 L2135.7,669.9 L2136.7,663.4 L2137.7,668.8 L2138.7,665.7 L2139.7,669.3 L2140.7,666.5 L2141.7,668.6 L2142.7,666.2 L2143.7,670.1 L2144.7,666.5 L2145.7,669.5 L2146.7,663.8 L2147.7,668.4 L2148.7,664.3 L2149.7,670 L2150.7,663.7 L2151.7,669.5 L2152.7,662.8 L2153.7,666.6 L2154.7,659 L2155.7,656.2 L2156,657.5 L2156.7,658.2 L2157.7,663.4 L2158.7,667.8 L2159.7,662.3 L2160.7,668.8 L2161.7,666.5 L2162.7,670 L2163.7,666.3 L2164.7,669.5 L2165.7,666.3 L2166.7,669.7 L2167.7,663.9 L2168.7,665.9 L2169.7,658.9 L2170.4,662.6 L2170.7,656.3 L2171.7,664.6 L2172.7,664.6 L2173.7,667.6 L2174.7,661.9 L2175.7,667.4 L2176.7,663.9 L2177.7,665.9 L2178.7,656.1 L2179.7,633.8 L2180.7,606.8 L2180.7,606.6 L2181.7,636 L2182.7,660.2 L2183.7,663.9 L2184.7,666.7 L2185.7,662 L2186.7,668.3 L2187.7,663.5 L2188.7,668.4 L2189.7,664.4 L2190.7,670 L2191.7,666.3 L2192.7,669.5 L2193.7,666.6 L2194.7,668.4 L2195.7,663.5 L2196.7,669.7 L2197.7,664.6 L2198.8,668.7 L2199.8,667 L2200.8,669 L2201.8,664.1 L2202.8,668.4 L2203.8,664.1 L2204.8,669.1 L2205.8,662.7 L2206.8,667.7 L2207.8,662.5 L2208.8,666.8 L2209.8,660.2 L2210.8,648 L2211.5,639.7 L2211.8,640.2 L2212.8,653.4 L2213.8,666.1 L2214.8,666.2 L2215.8,668.1 L2216.8,665.2 L2217.8,669.5 L2218.8,664.6 L2219.8,668 L2220.8,662.2 L2221.8,665.2 L2222.8,651 L2223.8,639.8 L2224,640.2 L2224.8,650.4 L2225.8,657.7 L2226.8,665.9 L2227.8,660.4 L2228.8,665.4 L2229.7,664 L2229.8,663.4 L2230.8,662.6 L2231.8,667.4 L2232.8,663.7 L2233.8,669.4 L2234.8,666 L2235.8,669.7 L2236.8,663.2 L2237.8,669 L2238.8,665.3 L2239.8,668.9 L2240.8,663.4 L2241.8,669.7 L2242.8,667.6 L2243.8,669.7 L2244.8,666.3 L2245.8,669.7 L2246.8,667.4 L2247.8,669.5 L2248.8,667.8 L2249.8,669.2 L2250.8,666.1 L2251.8,669 L2252.8,666.9 L2253.8,670.3 L2254.8,665.6 L2255.8,668.9" stroke="#0a0a0a" stroke-width="3.8" fill="none" stroke-linejoin="round"/>
<rect x="1343" y="72.5" width="913" height="673.8" fill="none" stroke="#141414" stroke-width="5"/>
<path d="M1343,746 V761 M1408.2,746 V755 M1473.4,746 V761 M1538.6,746 V755 M1603.8,746 V761 M1669,746 V755 M1734.2,746 V761 M1799.4,746 V755 M1864.6,746 V761 M1929.8,746 V755 M1995,746 V761 M2060.2,746 V755 M2125.4,746 V761 M2190.6,746 V755 M2255.8,746 V761" stroke="#141414" stroke-width="3.5" fill="none"/>
<text x="1343" y="799.3" font-family="'Liberation Sans', Arial, sans-serif" font-size="41.6" font-weight="normal" fill="#1a1a1a" text-anchor="middle" >10</text>
<text x="1473.4" y="799.3" font-family="'Liberation Sans', Arial, sans-serif" font-size="41.6" font-weight="normal" fill="#1a1a1a" text-anchor="middle" >20</text>
<text x="1603.8" y="799.3" font-family="'Liberation Sans', Arial, sans-serif" font-size="41.6" font-weight="normal" fill="#1a1a1a" text-anchor="middle" >30</text>
<text x="1734.2" y="799.3" font-family="'Liberation Sans', Arial, sans-serif" font-size="41.6" font-weight="normal" fill="#1a1a1a" text-anchor="middle" >40</text>
<text x="1864.6" y="799.3" font-family="'Liberation Sans', Arial, sans-serif" font-size="41.6" font-weight="normal" fill="#1a1a1a" text-anchor="middle" >50</text>
<text x="1995" y="799.3" font-family="'Liberation Sans', Arial, sans-serif" font-size="41.6" font-weight="normal" fill="#1a1a1a" text-anchor="middle" >60</text>
<text x="2125.4" y="799.3" font-family="'Liberation Sans', Arial, sans-serif" font-size="41.6" font-weight="normal" fill="#1a1a1a" text-anchor="middle" >70</text>
<text x="2255.8" y="799.3" font-family="'Liberation Sans', Arial, sans-serif" font-size="41.6" font-weight="normal" fill="#1a1a1a" text-anchor="middle" >80</text>
<text x="1666" y="883" font-family="'Liberation Sans', Arial, sans-serif" font-size="52.5" fill="#111">2<tspan font-family="'Liberation Serif', 'Times New Roman', serif" font-size="46.7">θ</tspan>(degree)</text>
<text transform="translate(1284.3,442.5) rotate(-90)" font-family="'Liberation Sans', Arial, sans-serif" font-size="52" font-weight="normal" fill="#111" text-anchor="middle">Intensity(a.u.)</text>
<text x="1187.5" y="141.9" font-family="'Liberation Sans', Arial, sans-serif" font-size="82" font-weight="bold" fill="#000" text-anchor="start" >(b)</text>
<rect x="2028.5" y="115.2" width="191" height="82.1" fill="#fff" stroke="#b3afae" stroke-width="4.5"/>
<text x="2052.5" y="172.7" font-family="'Liberation Serif', 'Times New Roman', serif" font-size="48" font-weight="bold" fill="#111">Mn<tspan font-size="29.5" dy="9.5">3</tspan><tspan dy="-9.5">O</tspan><tspan font-size="29.5" dy="9.5">4</tspan></text>
<text transform="translate(1436.3,547.2) rotate(90)" font-family="'Liberation Sans', Arial, sans-serif" font-size="35" font-weight="normal" fill="#1aa3e8" text-anchor="middle" stroke="#1aa3e8" stroke-width="0.9">(101)</text>
<text transform="translate(1580.9,447.1) rotate(90)" font-family="'Liberation Sans', Arial, sans-serif" font-size="35" font-weight="normal" fill="#1aa3e8" text-anchor="middle" stroke="#1aa3e8" stroke-width="0.9">(112)</text>
<text transform="translate(1601.3,555.4) rotate(90)" font-family="'Liberation Sans', Arial, sans-serif" font-size="35" font-weight="normal" fill="#1aa3e8" text-anchor="middle" stroke="#1aa3e8" stroke-width="0.9">(200)</text>
<text transform="translate(1624.3,262.2) rotate(90)" font-family="'Liberation Sans', Arial, sans-serif" font-size="35" font-weight="normal" fill="#1aa3e8" text-anchor="middle" stroke="#1aa3e8" stroke-width="0.9">(103)</text>
<text transform="translate(1698.2,139.8) rotate(90)" font-family="'Liberation Sans', Arial, sans-serif" font-size="35" font-weight="normal" fill="#1aa3e8" text-anchor="middle" stroke="#1aa3e8" stroke-width="0.9">(211)</text>
<text transform="translate(1785.3,514.2) rotate(90)" font-family="'Liberation Sans', Arial, sans-serif" font-size="35" font-weight="normal" fill="#1aa3e8" text-anchor="middle" stroke="#1aa3e8" stroke-width="0.9">(220)</text>
<text transform="translate(1980.8,261.2) rotate(90)" font-family="'Liberation Sans', Arial, sans-serif" font-size="35" font-weight="normal" fill="#1aa3e8" text-anchor="middle" stroke="#1aa3e8" stroke-width="0.9">(224)</text>
<text transform="translate(2044.8,498.7) rotate(90)" font-family="'Liberation Sans', Arial, sans-serif" font-size="35" font-weight="normal" fill="#1aa3e8" text-anchor="middle" stroke="#1aa3e8" stroke-width="0.9">(400)</text>
<path d="M177.5,1456.5 L178.5,1427.9 L179.5,1369.2 L180.5,1351.5 L181.2,1344.2 L181.5,1349.1 L182.5,1375.8 L183.5,1434.9 L184.5,1469.6 L185.5,1513.9 L186.5,1524.8 L187.5,1537.3 L188.5,1537.3 L189.5,1543.3 L190.5,1537.1 L191.5,1545.4 L192.5,1536.1 L193.5,1543.8 L194.5,1539.7 L195.5,1544 L196.5,1541.1 L197.5,1546.1 L198.5,1535.9 L199.5,1543.4 L200.5,1535.6 L201.5,1542.5 L202.5,1530.6 L203.5,1541 L204.5,1527.7 L205.5,1535.8 L206.5,1522.8 L207.5,1524.8 L208.5,1509.8 L209.5,1506 L210.5,1470.8 L211.5,1409.4 L212.5,1228.2 L213.5,1052.1 L213.5,1047.7 L214.5,1221.9 L215.5,1393.7 L216.5,1472 L217.5,1495.3 L218.5,1514.1 L219.5,1514 L220.5,1524.1 L221.5,1525 L222.5,1529.2 L223.5,1525.4 L224.5,1535.7 L224.7,1530.3 L225.5,1531.8 L226.5,1525.7 L227.5,1538.4 L228.5,1532.8 L229.5,1536.8 L230.5,1528.5 L231.5,1539.6 L232.5,1530.5 L233.5,1538.4 L234.5,1533.7 L235.5,1543.2 L236.5,1533.8 L237.5,1541.4 L238.5,1525.2 L239.5,1513.3 L240.5,1480.2 L240.6,1484.1 L241.5,1495.9 L242.5,1535.3 L243.5,1540.8 L244.5,1551.9 L245.5,1548.3 L246.5,1551.9 L247.5,1546.8 L248.5,1554 L249.5,1548.4 L250.5,1552.8 L251.5,1549.9 L252.5,1555 L253.5,1549 L254.5,1556.5 L255.5,1545.9 L256.5,1556.8 L257.5,1550.8 L258.5,1552.1 L259.5,1540.1 L260.5,1534.2 L261.5,1495.1 L262.5,1464.6 L262.5,1463.8 L263.5,1498.5 L264.5,1524.8 L265.5,1549.6 L266.5,1545.7 L267.5,1551 L268.5,1547.8 L269.5,1554.3 L270.5,1551.4 L271.5,1558.6 L272.5,1551.9 L273.5,1556 L274.5,1552.4 L275.5,1553.2 L276.5,1540.1 L277.5,1552.4 L278.5,1545.8 L279.5,1544.6 L280.5,1508.8 L281.5,1442 L282.5,1337.6 L282.7,1347.3 L283.5,1399.8 L284.5,1493.7 L285.5,1531.3 L286.5,1549.9 L287.5,1549.5 L288.5,1552.3 L289.5,1546.6 L290.5,1557.2 L291.5,1555.2 L292.5,1559.6 L293.5,1556.1 L294.5,1558.3 L295.5,1553.5 L296.5,1561.2 L297.5,1550.1 L298.5,1562.5 L299.5,1555.7 L300.5,1556.2 L301.5,1532.3 L302.1,1532.2 L302.5,1534.2 L303.5,1554.7 L304.5,1550.6 L305.5,1560 L306.5,1554.2 L307.5,1562.5 L308.5,1556.3 L309.5,1559.9 L310.5,1555 L311.5,1563.2 L312.5,1558 L313.5,1563.6 L314.5,1544.2 L315.5,1560.6 L316.5,1550 L317.5,1557.4 L318.5,1547.9 L319.5,1557.1 L320.5,1550.7 L321.5,1557.1 L322.5,1551.2 L323.5,1555.2 L324.5,1549 L325.5,1552.3 L326.5,1542.3 L327.5,1549.8 L328.5,1541.8 L329.5,1548.3 L330.5,1537.9 L331.5,1544.1 L332.5,1540.4 L333.5,1543 L334.5,1534.7 L334.7,1533.7 L335.5,1519 L336.5,1509 L337.1,1501.6 L337.5,1506.4 L338.5,1520.9 L339.5,1542.4 L340.5,1540.9 L341.5,1546.7 L342.5,1545.6 L343.5,1553.6 L344.5,1545 L345.5,1556.4 L346.5,1545.3 L347.5,1557.3 L348.5,1549 L349.5,1558.2 L350.5,1553.5 L351.5,1558.1 L352.5,1548.5 L353.5,1550.6 L353.6,1545.9 L354.5,1550.2 L355.5,1550.4 L356.5,1561.9 L357.5,1551.4 L358.5,1562.1 L359.5,1553 L360.5,1562.7 L361.5,1552.8 L362.5,1559.2 L363.5,1553.1 L364.5,1557.9 L365.5,1545.7 L366.5,1536 L367.5,1499.6 L368.1,1488.6 L368.5,1493.3 L369.5,1529 L370.5,1547.9 L371.5,1559.4 L372.5,1553.2 L373.5,1560.6 L374.5,1553.9 L375.5,1560.5 L376.5,1551.8 L377.5,1563.2 L378.5,1550.4 L379.5,1558.8 L380.5,1549.5 L381.5,1547.9 L382.5,1521.6 L382.8,1525.4 L383.5,1523.9 L384.5,1552.8 L385.5,1547.9 L386.5,1558.4 L387.5,1551.8 L388.5,1557.1 L389.5,1552 L390.5,1558.6 L391.5,1548.8 L392.5,1556.1 L393.5,1545.5 L394.5,1544 L395.5,1506.3 L396.5,1471.8 L396.9,1459.9 L397.5,1479.7 L398.5,1515.4 L399.5,1545.3 L400.5,1547.8 L401.5,1555.7 L402.5,1553 L403.5,1560.8 L404.5,1551.1 L405.5,1557.8 L406.5,1552.9 L407.5,1561.5 L408.5,1555.2 L409.5,1558.3 L410.5,1557.7 L411.5,1560.3 L412.5,1557.7 L413.5,1561.7 L414.5,1552.6 L415.5,1563.4 L416.5,1553.1 L417.5,1560.2 L418.5,1545.6 L419.5,1562.5 L420.5,1550.9 L421.5,1557.8 L422.5,1548.3 L423.5,1546.6 L423.5,1542.9 L424.5,1552.7 L425.5,1548.1 L426.5,1558.3 L427.5,1554.9 L428.5,1558 L429.5,1555.8 L430.5,1559.7 L431.5,1550.6 L432.5,1558.3 L433.5,1549 L434.5,1537.7 L435.5,1504.5 L436.1,1495.8 L436.5,1495.9 L437.5,1535.4 L438.5,1546.5 L439.5,1559 L440.5,1553.2 L441.5,1558.8 L442.5,1556.3 L443.5,1558.3 L444.5,1550.4 L445.5,1556.3 L446.5,1538.3 L447.5,1520.3 L447.9,1515.7 L448.5,1526.5 L449.5,1536.6 L450.5,1554.1 L451.5,1552.1 L452.5,1557.1 L453.5,1556.8 L454.5,1561.3 L455.5,1556.7 L456.5,1559 L457.5,1545.1 L458.5,1551.9 L459.5,1525.9 L460.2,1525.3 L460.5,1525.2 L461.5,1541.6 L462.5,1545.7 L463.5,1557.9 L464.5,1553 L465.5,1558.1 L466.5,1553.6 L467.5,1556.3 L468.5,1548.5 L469.5,1549.3 L470.5,1525.6 L471.5,1515.8 L471.5,1514.6 L472.5,1535.2 L473.5,1545.4 L474.5,1558.8 L475.5,1555.3 L476.5,1559.3 L477.5,1551.4 L478.5,1558.2 L479.5,1555.6 L480.5,1560 L481.5,1554.1 L482.5,1552.3 L482.5,1548.5 L483.5,1559.1 L484.5,1552.6 L485.5,1559 L486.5,1557.2 L487.5,1563.6 L488.5,1552.5 L489.5,1560.5 L490.5,1549.2 L491.5,1554.3 L492.5,1543.3 L493.2,1541.2 L493.5,1540.5 L494.5,1550.9 L495.5,1550.3 L496.5,1555.4 L497.5,1549.6 L498.5,1556.5 L499.5,1549.7 L500.5,1557.9 L501.5,1556.1 L502.5,1560.3 L503.5,1546.1 L504.5,1539.7 L505.5,1522.8 L505.5,1528.3 L506.5,1538.1 L507.5,1557.5 L508.5,1555 L509.5,1564.6 L510.5,1555.6 L511.5,1562.9 L512.5,1556.1 L513.5,1562.5 L514.5,1550.5 L515.5,1556.7 L516.5,1552.1 L517.5,1555.8 L518.5,1550.3 L519.5,1552.9 L520.5,1547.3 L521.5,1554.4 L522.5,1544.3 L523.5,1548.1 L524.5,1522.4 L525.5,1517.1 L526.2,1508.7 L526.5,1511 L527.5,1519.9 L528.5,1541.7 L529.5,1539.9 L530.5,1553.5 L531.5,1543.1 L532.5,1551.4 L533.5,1540.3 L534.5,1550.3 L535.5,1538.1 L536.4,1541.6 L536.5,1535.8 L537,1540.9 L537.5,1538.2 L538.5,1545.9 L539.5,1542.4 L540.5,1553.7 L541.5,1542.6 L542.5,1555.5 L543.5,1545.3 L544.5,1553.8 L545.5,1549.1 L546.5,1555.9 L547.5,1549.5 L548.5,1555.9 L549.5,1548.2 L550.5,1558 L551.5,1549.8 L552.5,1557.3 L553.5,1546.1 L554.5,1560.7 L555.5,1548.8 L556.5,1550.3 L556.5,1545.2 L557.5,1558.5 L558.5,1553.8 L559.5,1566 L560.5,1556 L561.5,1562.7 L562.5,1556.3 L563.5,1566.8 L564.5,1559.7 L565.5,1564.2 L566.5,1556.2 L567.5,1563.6 L568.5,1559.2 L569.5,1565.4 L570.5,1560.1 L571.5,1563.8 L572.5,1561.8 L573.5,1568.8 L574.5,1559.3 L575.5,1566.5 L576.5,1557.8 L577.5,1567.5 L578.5,1562.5 L579.5,1565.7 L580.5,1558.9 L581.5,1567.7 L582.5,1560.6 L583.5,1565.6 L584.5,1558.8 L585.5,1568.7 L586.5,1559.6 L587.5,1564.3 L588.5,1561 L589.5,1565.1 L590.5,1553.1 L591.5,1559.1 L592.5,1542.9 L593.5,1540.2 L594.2,1534.4 L594.5,1539.3 L595.5,1543.4 L596.5,1555.2 L597.5,1547.1 L598.5,1564.2 L599.5,1561.5 L600.5,1563.5 L601.5,1559.7 L602.5,1563.8 L603.5,1559.3 L604.5,1565.2 L605.5,1557.5 L606.5,1565.9 L607.5,1557.8 L608.5,1565.8 L609.5,1562.5 L610.5,1567.1 L611.5,1553.8 L612.4,1554.2 L612.5,1551 L613.5,1562 L614.5,1556.7 L615.5,1567.4 L616.5,1562.5 L617.5,1564 L618.5,1562.3 L619.5,1564.4 L620.5,1558.2 L621.5,1567.3 L622.5,1558.1 L623.5,1568.2 L624.5,1559.8 L625.5,1568.5 L626.5,1558.4 L627.5,1563.8 L628.5,1558.2 L629.5,1566.6 L630.5,1558.3 L631.5,1563.7 L632.5,1559.1 L633.5,1568.8 L634.5,1560.2 L635.5,1565.4 L636.5,1560.1 L637.5,1567.2 L638.5,1561.9 L639.5,1567 L640.5,1562.7 L641.5,1566.7 L642.5,1559 L643.5,1563.2 L644.5,1556.3 L645.5,1567.1 L646.5,1561 L647.5,1563.8 L648.5,1558.3 L649.5,1564.6 L650.5,1559.3 L651.5,1563.6 L652.5,1556.5 L653.5,1564.7 L654.5,1562.5 L655.5,1567.9 L656.5,1563.3 L657.5,1566.2 L658.5,1562.4 L659.5,1566.3 L660.5,1559.4 L661.5,1564.6 L662.5,1560.9 L663.5,1566.8 L664.5,1558.6 L665.5,1565.3 L666.5,1563.4 L667.5,1569 L668.5,1556.7 L669.5,1568.3 L670.5,1560.3 L671.5,1568 L672.5,1563.8 L673.5,1565.2 L674.5,1559.2 L675.5,1566.1 L676.5,1563.4 L677.5,1569.1 L678.5,1562.6 L679.5,1564.8 L680.5,1562.9 L681.5,1566 L682.5,1562.3 L683.5,1570.2 L684.5,1560.2 L685.5,1568.2 L686.5,1558.5 L687.5,1568.9 L688.5,1564.2 L689.5,1566.9 L690.5,1564.3 L691.5,1567.3 L692.5,1561.6 L693.5,1564.9 L694.5,1562 L695.5,1566.7 L696.5,1559.1 L697.5,1568.5 L698.5,1557.8 L699.5,1564.7 L700.5,1562.4 L701.5,1568.4 L702.5,1558.8 L703.5,1567 L704.5,1561.9 L705.5,1568.4 L706.5,1561.8 L707.5,1567 L708.5,1556.9 L709.5,1563.3 L710.5,1562.7 L711.5,1566.3 L712.5,1561.9 L713.5,1568.7 L714.5,1558 L715.5,1566.5 L716.5,1556.2 L717.5,1564.4 L718.5,1559.4 L719.5,1563.5 L720.5,1558.2 L721.5,1568 L722.5,1557.7 L723.5,1568.2 L724.5,1559.8 L725.5,1570.1 L726.5,1564.8 L727.5,1566.1 L728.5,1564.3 L729.5,1569 L730.5,1558.7 L731.5,1569.7 L732.5,1561.8 L733.5,1567.3 L734.5,1558.6 L735.5,1569.9 L736.5,1562.3 L737.5,1568.8 L738.5,1558.8 L739.5,1570.4 L740.5,1564.2 L741.5,1567.2 L742.5,1563.9 L743.5,1568 L744.5,1558.5 L745.5,1564.7 L746.5,1561.8 L747.5,1568.7 L748.5,1558.8 L749.5,1568.1 L750.5,1561.6 L751.5,1567.9 L752.5,1556.8 L753.5,1563.9 L754.5,1560.8 L755.5,1565.9 L756.5,1557.7 L757.5,1567 L758.5,1559 L759.5,1561.1 L760.5,1559.6 L761.5,1560.8 L762.5,1557.2 L763.5,1558.9 L764.5,1555.6 L765.5,1561.1 L766.5,1550 L767.5,1557.4 L768.5,1553 L769.2,1554.1 L769.5,1548.9 L770.5,1555.7 L771.5,1551.5 L772.5,1555.8 L773.5,1556.8 L774.5,1560.4 L775.5,1555.7 L776.5,1564.6 L777.5,1557.5 L778.5,1566.5 L779.5,1563 L780.5,1565.9 L781.5,1558.8 L782.5,1571.5 L783.5,1561.7 L784.5,1567.4 L785.5,1565 L786.5,1570.4 L787.5,1563.2 L788.5,1567.7 L789.5,1564.2 L790.5,1565.4 L791.5,1560.3 L792.5,1571.4 L793.5,1559.6 L794.5,1566 L795.5,1561.2 L796.5,1571.6 L797.5,1563.2 L798.5,1567.7 L799.5,1560.5 L800.5,1567.4 L801.5,1565.7 L802.5,1568.7 L803.5,1565.5 L804.5,1569.1 L805.5,1567.2 L806.5,1573.3 L807.5,1564.2 L808.5,1569.3 L809.5,1565.7 L810.5,1571.7 L811.5,1565.4 L812.5,1575.2 L813.5,1567.5 L814.5,1571.8 L815.5,1568.4 L816.5,1574.6 L817.5,1565 L818.5,1571.9 L819.5,1561.7 L820.5,1568.5 L821.5,1561.4 L822.5,1572.8 L823.5,1564.6 L824.5,1573.1 L825.5,1565.1 L826.5,1568.9 L827.5,1562.4 L828.5,1573 L829.5,1560.6 L830.5,1571 L831.5,1564.4 L832.5,1571.7 L833.5,1564 L834.5,1568.7 L835.5,1563.5 L836.5,1572.3 L837.5,1562.6 L838.5,1567.6 L839.5,1557.3 L840.5,1567.6 L841.5,1565.2 L842.5,1568.7 L843.5,1561 L844.5,1568.5 L845.5,1567 L846.5,1573.2 L847.5,1561.6 L848.5,1571.2 L849.5,1562.2 L850.5,1574.1 L851.5,1563.1 L852.5,1571.3 L853.5,1565.1 L854.5,1570.3 L855.5,1565.8 L856.5,1574.2 L857.5,1568.7 L858.5,1571.3 L859.5,1565.7 L860.5,1571.5 L861.5,1564.8 L862.5,1570.4 L863.5,1565.9 L864.5,1570.2 L865.5,1563.5 L866.5,1572.8 L867.5,1564.2 L868.5,1573.2 L869.5,1562.6 L870.5,1572.3 L871.5,1565.2 L872.5,1571.6 L873.5,1561.4 L874.5,1569.3 L875.5,1562.6 L876.5,1570.7 L877.5,1561.7 L878.5,1572.8 L879.5,1561.7 L880.5,1568.5 L881.5,1563.5 L882.5,1572.7 L883.5,1564.1 L884.5,1570.1 L885.5,1563.9 L886.5,1569.4 L887.5,1565.9 L888.5,1573.4 L889.5,1562.9 L890.5,1573.6 L891.5,1566.9 L892.5,1568.8 L893.5,1563.4 L894.5,1572.5 L895.5,1562.3 L896.5,1570 L897.5,1562.9 L898.5,1571 L899.5,1561.2 L900.5,1570.5 L901.5,1563.7 L902.5,1573.5 L903.5,1560.6 L904.5,1569.3 L904.9,1568.1 L905.5,1571.7 L906.5,1561.5 L907.5,1570.9 L908.5,1561.3 L909.5,1570.8 L910.5,1566.4 L911.5,1568.8 L912.5,1565.2 L913.5,1572.5 L914.5,1561.9 L915.5,1571.8 L916.5,1562.6 L917.5,1573.9 L918.5,1568.6 L919.5,1571 L920.5,1563.3 L921.5,1569 L922.5,1567.1 L923.5,1569.1 L924.5,1567 L925.5,1570.9 L926.5,1561.1 L927.5,1568.3 L928.5,1561.2 L929.5,1568.6 L930.5,1562 L931.5,1571.9 L932.5,1565.2 L933.5,1573.2 L934.5,1568.7 L935.5,1572.7 L936.5,1567.6 L937.5,1572.7 L938.5,1564.8 L939.5,1574.8 L940.5,1571 L941.5,1572.3 L942.5,1570.4 L943.5,1574.2 L944.5,1568 L945.5,1572.6 L946.5,1572.1 L947.5,1578.4 L948.5,1570.1 L949.5,1576.1 L950.5,1564.9 L951.5,1576.1 L952.5,1570.3 L953.5,1574.1 L954.5,1565.2 L955.5,1571.7 L956.5,1568.7 L957.5,1574.6 L958.5,1569.1 L959.5,1572.4 L960.5,1562.8 L961.5,1574.1 L962.5,1565.1 L963.5,1576 L964.5,1568 L965.5,1575.3 L966.5,1571.5 L967.5,1574.7 L968.5,1565.9 L969.5,1576.1 L970.5,1572.9 L971.5,1577.5 L972.5,1570.4 L973.5,1577.1 L974.5,1568.6 L975.5,1577.2 L976.5,1572.2 L977.5,1574.7 L978.5,1567.1 L979.5,1573.5 L980.5,1562.3 L981.5,1577.5 L982.5,1570.4 L983.5,1577.7 L984.5,1569.3 L985.5,1575.3 L986.5,1569.6 L987.5,1573 L988.5,1569.4 L989.5,1573 L990.5,1569.1 L991.5,1576.3 L992.5,1564 L993.5,1574 L994.5,1569.9 L995.5,1571.8 L996.5,1570 L997.5,1575.5 L998.5,1562.6 L999.5,1576.1 L1000.5,1565.2 L1001.5,1576.5 L1002.5,1565.6 L1003.5,1572.6 L1004.5,1570.9 L1005.5,1576 L1006.5,1563.8 L1007.5,1571.1 L1008.5,1567.7 L1009.5,1572 L1010.5,1566.7 L1011.5,1576 L1012.5,1568.6 L1013.5,1575.9 L1014.5,1566.2 L1015.5,1572.1 L1016.5,1565.6 L1017.5,1577.5 L1018.5,1566.9 L1019.5,1573.4 L1020.5,1570.9 L1021.5,1577.9 L1022.5,1568.3 L1023.5,1577.4 L1024.5,1571.6 L1025.5,1573.3 L1026.5,1567.6 L1027.5,1576.8 L1028.5,1568.3 L1029.5,1576.6 L1030.5,1569.4 L1031.5,1575.5 L1032.5,1572.3 L1033.5,1578.5 L1034.5,1568.3 L1035.5,1575.7 L1036.5,1573.5 L1037.5,1574.9 L1038.5,1572.1 L1039.5,1578.1 L1040.5,1568.3 L1041.5,1578.4 L1042.5,1573.5 L1043.5,1575.5 L1044.5,1565.3 L1045.5,1573.7 L1046.5,1568 L1047.5,1576 L1048.5,1565.5 L1049.5,1573.3 L1050.5,1566.6 L1051.5,1571.9 L1052.5,1566.5 L1053.5,1573.1 L1054.5,1567.6 L1055.5,1572.6 L1056.5,1567.7 L1057.5,1577.2 L1058.5,1571.3 L1059.5,1579.4 L1060.5,1569.2 L1061.5,1576.4 L1062.5,1574.5 L1063.5,1579 L1064.5,1569.8 L1065.5,1579.5 L1066.5,1572.8 L1067.5,1577.1 L1068.5,1569.9 L1069.5,1578.6 L1070.5,1566.7 L1071.5,1574.5 L1072.5,1566.5 L1073.5,1572.5 L1074.5,1569.7 L1075.5,1575.3 L1076.5,1568.6 L1077.5,1577.2 L1078.5,1573.1 L1079.5,1576 L1080.5,1573.6 L1081.5,1576.4 L1082.5,1572.4 L1083.5,1580.3 L1084.5,1572.5 L1085.5,1580.2 L1086.5,1570.3 L1087.5,1581 L1088.5,1571.2 L1089.5,1578.7 L1090.5,1572.1 L1091.5,1579.7 L1092.5,1567.5 L1093.5,1579.4 L1094.5,1567.3" stroke="#0a0a0a" stroke-width="4.6" fill="none" stroke-linejoin="round"/>
<rect x="177.5" y="971" width="917" height="674.6" fill="none" stroke="#141414" stroke-width="5"/>
<path d="M177.5,1645 V1661.5 M243,1645 V1655 M308.5,1645 V1661.5 M374,1645 V1655 M439.5,1645 V1661.5 M505,1645 V1655 M570.5,1645 V1661.5 M636,1645 V1655 M701.5,1645 V1661.5 M767,1645 V1655 M832.5,1645 V1661.5 M898,1645 V1655 M963.5,1645 V1661.5 M1029,1645 V1655 M1094.5,1645 V1661.5" stroke="#141414" stroke-width="3.5" fill="none"/>
<text x="177.5" y="1694.6" font-family="'Liberation Sans', Arial, sans-serif" font-size="35" font-weight="normal" fill="#333" text-anchor="middle" >10</text>
<text x="308.5" y="1694.6" font-family="'Liberation Sans', Arial, sans-serif" font-size="35" font-weight="normal" fill="#333" text-anchor="middle" >20</text>
<text x="439.5" y="1694.6" font-family="'Liberation Sans', Arial, sans-serif" font-size="35" font-weight="normal" fill="#333" text-anchor="middle" >30</text>
<text x="570.5" y="1694.6" font-family="'Liberation Sans', Arial, sans-serif" font-size="35" font-weight="normal" fill="#333" text-anchor="middle" >40</text>
<text x="701.5" y="1694.6" font-family="'Liberation Sans', Arial, sans-serif" font-size="35" font-weight="normal" fill="#333" text-anchor="middle" >50</text>
<text x="832.5" y="1694.6" font-family="'Liberation Sans', Arial, sans-serif" font-size="35" font-weight="normal" fill="#333" text-anchor="middle" >60</text>
<text x="963.5" y="1694.6" font-family="'Liberation Sans', Arial, sans-serif" font-size="35" font-weight="normal" fill="#333" text-anchor="middle" >70</text>
<text x="1094.5" y="1694.6" font-family="'Liberation Sans', Arial, sans-serif" font-size="35" font-weight="normal" fill="#333" text-anchor="middle" >80</text>
<text x="502.2" y="1776.2" font-family="'Liberation Sans', Arial, sans-serif" font-size="53" fill="#111">2<tspan font-family="'Liberation Serif', 'Times New Roman', serif" font-size="47.2">θ</tspan>(degree)</text>
<text transform="translate(119.5,1342) rotate(-90)" font-family="'Liberation Sans', Arial, sans-serif" font-size="53" font-weight="normal" fill="#111" text-anchor="middle">Intensity(a.u.)</text>
<text x="40.1" y="1053.5" font-family="'Liberation Sans', Arial, sans-serif" font-size="84" font-weight="bold" fill="#000" text-anchor="start" >(c)</text>
<rect x="692.8" y="999.2" width="374" height="82.1" fill="#fff" stroke="#b3afae" stroke-width="4.5"/>
<text x="714.5" y="1056.8" font-family="'Liberation Serif', 'Times New Roman', serif" font-size="47" font-weight="bold" fill="#111">ZIF-8<tspan font-weight="normal">@</tspan>γ-MnO<tspan font-size="29" dy="9">2</tspan></text>
<path d="M1373,1569 L1374,1577 L1375,1568.5 L1376,1573.2 L1377,1568 L1378,1575.1 L1379,1564.6 L1380,1572.6 L1381,1562.6 L1382,1573.4 L1383,1562.6 L1384,1569.7 L1385,1563.2 L1386,1572.9 L1387,1564 L1388,1573.7 L1389,1562.6 L1390,1572.3 L1391,1562.7 L1392,1570.9 L1393,1561.1 L1394,1571.9 L1395,1562.9 L1396,1572.5 L1397,1562.4 L1398,1567.2 L1399,1565.3 L1400,1571.4 L1401,1562.2 L1402,1571.7 L1403,1565.3 L1404,1568.1 L1405,1566.4 L1406,1573.6 L1407,1564.1 L1408,1570.6 L1409,1564.9 L1410,1572.6 L1411,1557.7 L1412,1573.8 L1413,1567.9 L1414,1575.4 L1415,1569.8 L1416,1574 L1417,1565.5 L1418,1571.9 L1419,1571.5 L1420,1576.6 L1421,1568.3 L1422,1574.2 L1423,1570.6 L1424,1577.1 L1425,1572 L1426,1575.7 L1427,1567.1 L1428,1575.1 L1429,1567 L1430,1573.1 L1431,1566.4 L1432,1575.8 L1433,1569.7 L1434,1571.6 L1435,1568.7 L1436,1570.9 L1437,1563.3 L1438,1571.4 L1439.1,1562.9 L1440.1,1567.3 L1441.1,1566.2 L1442.1,1566.1 L1443.1,1560.1 L1444.1,1568.8 L1445.1,1566.1 L1446.1,1570.9 L1447.1,1564.7 L1448.1,1568.7 L1449.1,1567.4 L1450.1,1573.7 L1451.1,1564.9 L1452.1,1574.8 L1453.1,1569.8 L1454.1,1573.2 L1455.1,1568.7 L1456.1,1574.3 L1457.1,1565.5 L1458.1,1570.2 L1459.1,1564.1 L1460.1,1570.5 L1461.1,1565.6 L1462.1,1571.5 L1463.1,1563.1 L1464.1,1572 L1465.1,1562.3 L1466.1,1567.3 L1467.1,1565.8 L1468.1,1570.8 L1469.1,1563.4 L1470.1,1572 L1471.1,1562.1 L1472.1,1568.7 L1473.1,1564 L1474.1,1569.5 L1475.1,1556.4 L1476.1,1557.9 L1477.1,1545.7 L1477.6,1544.7 L1478.1,1543.7 L1479.1,1560.9 L1480.1,1558.7 L1481.1,1567.7 L1482.1,1561.4 L1483.1,1571.4 L1484.1,1566.9 L1485.1,1569.7 L1486.1,1566.7 L1487.1,1571.1 L1488.1,1564.4 L1489.1,1573.3 L1490.1,1564.2 L1491.1,1571.4 L1492.1,1568.6 L1493.1,1573.4 L1494.1,1570.2 L1495.1,1572.8 L1496.1,1564.3 L1497.1,1570.2 L1498.1,1559.9 L1498.9,1559.6 L1499.1,1557.2 L1500.1,1565.8 L1501.1,1564.1 L1502.1,1573.2 L1503.1,1566.1 L1504.1,1575.1 L1505.1,1569.3 L1506.1,1573.7 L1507.1,1567.3 L1508.1,1574.5 L1509.1,1562.9 L1510.1,1571.7 L1511.1,1563.1 L1512.1,1569.8 L1513.1,1565.4 L1514.1,1570.2 L1515.1,1567.1 L1516.1,1572.6 L1517.1,1568.8 L1518.1,1572.4 L1519.1,1565.9 L1520.1,1576.4 L1521.1,1567.9 L1522.1,1576.3 L1523.1,1569 L1524.1,1574.7 L1525.1,1567.8 L1526.1,1577.7 L1527.1,1567.9 L1528.1,1574 L1529.1,1568.6 L1530.1,1570.1 L1531.1,1552.3 L1532,1552.4 L1532.1,1550.8 L1533.1,1562 L1534.1,1564 L1535.1,1572.7 L1536.1,1564.8 L1537.1,1571.5 L1538.1,1564.7 L1539.1,1572.7 L1540.1,1565.3 L1541.1,1576.3 L1542.1,1567 L1543.1,1572.9 L1544.1,1571.1 L1545.1,1577.6 L1546.1,1571.1 L1547.1,1578.7 L1548.1,1571.6 L1549.1,1578.3 L1550.1,1565.9 L1551.1,1579.2 L1552.1,1571 L1553.1,1578.4 L1554.1,1571.9 L1555.1,1575.9 L1556.1,1570 L1557.1,1574.2 L1558.1,1567.1 L1559.1,1574 L1560.1,1561 L1560.5,1566.7 L1561.1,1568.1 L1562.1,1574.5 L1563.1,1571.7 L1564.1,1577.1 L1565.1,1569.7 L1566.1,1576.6 L1567.1,1567.6 L1568.1,1569.5 L1569.1,1564.8 L1570.2,1572 L1571.2,1560.3 L1572.2,1568.8 L1573.2,1558.8 L1574.2,1561.3 L1575.2,1552.5 L1576.2,1555.7 L1577.2,1552.3 L1578.2,1554.2 L1579.2,1544 L1580.2,1551 L1581.2,1540.4 L1582,1544.8 L1582.2,1541.4 L1583.2,1549.8 L1584.2,1543.4 L1585.2,1551.4 L1586.2,1546.4 L1587.2,1559 L1588.2,1551.6 L1589.2,1565.5 L1590.2,1560.1 L1591.2,1567.7 L1592.2,1567.8 L1593.2,1572.6 L1594.2,1572 L1595.2,1577 L1596.2,1569.3 L1597.2,1578.6 L1598.2,1574.3 L1599.2,1579.4 L1600.2,1568.9 L1601.2,1576.6 L1602.2,1571 L1603.2,1578 L1604.2,1570.4 L1605.2,1574.2 L1606.2,1571.3 L1607.2,1576.4 L1608.2,1566.5 L1609.2,1572.3 L1610.2,1565.8 L1611.2,1572.1 L1612.2,1567.9 L1613.2,1577.5 L1614.2,1572.4 L1615.2,1575.2 L1616.2,1562.1 L1617.2,1574.8 L1618.2,1562.6 L1619.2,1559.5 L1619.6,1556.5 L1620.2,1560.4 L1621.2,1566 L1622.2,1571.8 L1623.2,1573.5 L1624.2,1579.6 L1625.2,1573.5 L1626.2,1576.1 L1627.2,1574.8 L1628.2,1577.9 L1629.2,1574.9 L1630.2,1579.5 L1631.2,1571.4 L1632.2,1577.5 L1633.2,1575.3 L1634.2,1576.7 L1635.2,1568.1 L1636.2,1575.4 L1637.2,1568 L1638.2,1575.6 L1639.2,1567.5 L1640.2,1571.4 L1641.2,1565.3 L1642.2,1574.6 L1643.2,1566.5 L1644.2,1570.6 L1645.2,1560.4 L1646.2,1565.5 L1647,1558.1 L1647.2,1559.3 L1648.2,1559 L1649.2,1570.4 L1650.2,1566.6 L1651.2,1571.5 L1652.2,1570.3 L1653.2,1574.9 L1654.2,1565.8 L1655.2,1573 L1656.2,1568 L1657.2,1570.8 L1658.2,1566.1 L1659.2,1573.6 L1660.2,1561.1 L1661.2,1563.4 L1662.2,1555 L1663.2,1547.9 L1664.2,1533.8 L1665.2,1532.8 L1665.5,1529.3 L1666.2,1532.1 L1667.2,1536.8 L1668.2,1553.5 L1669.2,1553.5 L1670.2,1567.8 L1671.2,1566.3 L1672.2,1570.6 L1673.2,1570.1 L1674.2,1571.7 L1675.2,1566.3 L1676.2,1576.5 L1677.2,1571.9 L1678.2,1573.9 L1679.2,1568.9 L1680.2,1573.4 L1681.2,1566.7 L1682.2,1576.7 L1683.2,1568.1 L1684.2,1578.2 L1685.2,1567.5 L1686.2,1574.9 L1687.2,1567.3 L1688.2,1573.2 L1689.2,1570.1 L1690.2,1574 L1691.2,1569.5 L1692.2,1570.8 L1693.2,1568 L1694.2,1568.8 L1695.2,1561.4 L1696.2,1557 L1697.2,1541.9 L1698.2,1503.8 L1699.2,1391.9 L1700.2,1279.1 L1700.4,1273.8 L1701.3,1366.5 L1702.3,1472.6 L1703.3,1540.1 L1704.3,1550.9 L1705.3,1558.5 L1706.3,1560.3 L1707.3,1565 L1708.3,1562.7 L1709.3,1566.6 L1710.3,1560 L1711.3,1564.4 L1712.3,1557.9 L1713.3,1555.3 L1714.3,1533.9 L1715.3,1525.4 L1716,1515.5 L1716.3,1521.3 L1717.3,1524.9 L1718.3,1550.1 L1719.3,1556.2 L1720.3,1566.7 L1721.3,1560.3 L1722.3,1569.4 L1723.3,1566.7 L1724.3,1572.4 L1725.3,1562.4 L1726.3,1572.2 L1727.3,1567.6 L1728.3,1572 L1729.3,1568.6 L1730.3,1570.7 L1731.3,1566.8 L1732.3,1576.1 L1733.3,1566.3 L1734.3,1576.6 L1735.3,1564.6 L1736.3,1573.5 L1737.3,1571.9 L1738.3,1575.9 L1739.3,1569.6 L1740.3,1571 L1741.3,1558.7 L1741.4,1561.1 L1742.3,1559 L1743.3,1570.9 L1744.3,1571 L1745.3,1575.2 L1746.3,1571.4 L1747.3,1573 L1748.3,1566.9 L1749.3,1575.6 L1750.3,1569.5 L1751.3,1575.3 L1752.3,1562.1 L1753.3,1571.8 L1754.3,1568.5 L1755.3,1571.3 L1756.3,1565.3 L1757.3,1575.1 L1758.3,1567.3 L1759.3,1573.7 L1760.3,1567.2 L1761.3,1572.5 L1762.3,1561.3 L1763.3,1569.3 L1764.3,1561.4 L1765.3,1560.2 L1766.3,1554.2 L1767.3,1550.8 L1768.3,1537.2 L1769.3,1526.5 L1770.3,1485.7 L1771.3,1417.6 L1772.3,1261.4 L1773.3,1092.1 L1773.9,1041.5 L1774.3,1064.1 L1775.3,1225.1 L1776.3,1393.1 L1777.3,1478.8 L1778.3,1527.2 L1779.3,1536.5 L1780.3,1554.2 L1781.3,1549.4 L1782.3,1560.7 L1783.3,1557.7 L1784.3,1570 L1785.3,1562.6 L1786.3,1570.3 L1787.3,1566.1 L1788.3,1569.1 L1789.3,1567.4 L1790.3,1569.4 L1791.3,1566.4 L1792.3,1567.5 L1793.3,1566.6 L1794.3,1569.8 L1795.3,1564.4 L1796.3,1567.1 L1797.3,1567 L1798.3,1568.3 L1799.3,1562 L1800.3,1571.8 L1801.3,1568 L1802.3,1572.5 L1803.3,1565.2 L1804.3,1576.1 L1805.3,1568.9 L1806.3,1578.2 L1807.3,1567 L1808.3,1576.6 L1809.3,1572.6 L1810.3,1577.6 L1811.3,1570.6 L1812.3,1573 L1813.3,1565.8 L1814.3,1574.9 L1815.3,1569.8 L1816.3,1571 L1817.3,1567 L1818.3,1565.6 L1819.3,1554.3 L1820.3,1558.2 L1820.8,1552.5 L1821.3,1556.3 L1822.3,1555 L1823.3,1566.4 L1824.3,1565.8 L1825.3,1569 L1826.3,1569 L1827.3,1572.9 L1828.3,1569.2 L1829.3,1572.2 L1830.3,1570.1 L1831.3,1575.3 L1832.4,1566.5 L1833.4,1575.8 L1834.4,1570.6 L1835.4,1574.2 L1836.4,1566.5 L1837.4,1577 L1838.4,1570 L1839.4,1574.8 L1840.4,1567.3 L1841.4,1576.5 L1842.4,1570.7 L1843.4,1574.6 L1844.4,1569.3 L1845.4,1576.6 L1846.4,1568.4 L1847.4,1576 L1848.4,1572.1 L1849.4,1578.5 L1850.4,1571.6 L1851.4,1575.5 L1852.4,1568.1 L1853.4,1577.9 L1854.4,1570.8 L1855.4,1575.5 L1856.4,1572.2 L1857.4,1577.1 L1858.4,1566.3 L1859.4,1574.5 L1860.4,1567.4 L1861.4,1570.7 L1862.4,1564.8 L1863.4,1571.3 L1864.4,1564.1 L1865.4,1569.1 L1866.4,1563.1 L1867.4,1573.1 L1868.4,1563.4 L1869.4,1569.2 L1870.4,1563.9 L1871.4,1569.9 L1872.4,1567 L1873.4,1573.7 L1874.4,1564.2 L1875.4,1572.9 L1876.4,1568.3 L1877.4,1574.2 L1878.4,1569.1 L1879.4,1570.8 L1880.4,1569.3 L1881.4,1573.4 L1882.4,1567.1 L1883.4,1570.7 L1884.4,1570.4 L1885.4,1573.4 L1886.4,1564.4 L1887.4,1577.1 L1888.4,1573.3 L1889.4,1574.2 L1890.4,1570 L1891.4,1578 L1892.4,1569 L1893.4,1578.1 L1894.4,1568 L1895.4,1576.2 L1896.4,1564.8 L1897.4,1572.4 L1898.4,1567.5 L1899.4,1574.2 L1900.4,1564.3 L1901.4,1568.4 L1902.4,1564.3 L1903.4,1568.3 L1904.4,1567.9 L1905.4,1572.5 L1906.4,1567.3 L1907.4,1571.4 L1908.4,1569.6 L1909.4,1571.5 L1910.4,1569 L1911.4,1574.5 L1912.4,1569.4 L1913.4,1573.2 L1914.4,1566.8 L1915.4,1573.3 L1916.4,1566.4 L1917.4,1573.4 L1918.4,1568.3 L1919.4,1572.6 L1920.4,1567.4 L1921.4,1573.6 L1922.4,1564.6 L1923.4,1574.6 L1924.4,1564.9 L1925.4,1573.8 L1926.4,1563.2 L1927.4,1574.4 L1928.4,1563.5 L1929.4,1574.2 L1930.4,1565 L1931.4,1572.8 L1932.4,1566.3 L1933.4,1571.9 L1934.4,1567.5 L1935.4,1570 L1936.4,1567.8 L1937.4,1572.7 L1938.4,1557.9 L1939.4,1570.4 L1940.4,1563.6 L1941.4,1568.9 L1942.4,1564 L1943.4,1565.8 L1944.4,1558.2 L1945.4,1560.4 L1946,1555 L1946.4,1559.4 L1947.4,1556.4 L1948.4,1571 L1949.4,1567.6 L1950.4,1574.1 L1951.4,1571.6 L1952.4,1577.3 L1953.4,1571.5 L1954.4,1574.4 L1955.4,1565.9 L1956.4,1576.1 L1957.4,1570.2 L1958.4,1576.4 L1959.4,1568 L1960.4,1574.1 L1961.4,1565.7 L1962.4,1575.6 L1963.5,1566.5 L1964.5,1576.6 L1965.5,1570.4 L1966.5,1575.3 L1967.5,1569 L1968.5,1569.4 L1969.5,1564.6 L1970.5,1568.4 L1971.5,1562.8 L1972.5,1566.7 L1973.5,1565.1 L1974.5,1566.8 L1975.5,1561.1 L1976.5,1570.2 L1977.5,1561.2 L1978.5,1565.2 L1979.5,1560.5 L1980.5,1565.8 L1981.5,1559.9 L1982.5,1566.8 L1982.6,1561.7 L1983.5,1566.7 L1984.5,1560.4 L1985.5,1566.9 L1986.5,1564.4 L1987.5,1570.1 L1988.5,1566.1 L1989.5,1572.8 L1990.5,1564.6 L1991.5,1569.8 L1992.5,1565.2 L1993.5,1566.5 L1994.5,1564.9 L1995.5,1566.2 L1996.5,1558.6 L1997.5,1564.1 L1998.5,1557.2 L1999.5,1565.4 L2000.5,1561.1 L2001.5,1564.1 L2002.5,1560.2 L2003.5,1565.3 L2004.5,1556.9 L2005.5,1559.7 L2006.5,1546.9 L2007.5,1537 L2008.5,1493.6 L2009.5,1427.5 L2010.5,1340.4 L2011.1,1320.4 L2011.5,1331.1 L2012.5,1411.6 L2013.5,1485.2 L2014.5,1533 L2015.5,1543.3 L2016.5,1556.5 L2017.5,1555.6 L2018.5,1561.6 L2019.5,1558.6 L2020.5,1567 L2021.5,1560.1 L2022.5,1569.9 L2023.5,1556.5 L2024.5,1555.7 L2025.5,1542.1 L2025.7,1543.9 L2026.5,1548.9 L2027.5,1560.2 L2028.5,1563.3 L2029.5,1568.5 L2030.5,1562.4 L2031.5,1567.8 L2032.5,1561.5 L2033.5,1569.2 L2034.5,1560.8 L2035.5,1569.5 L2036.5,1565.4 L2037.5,1569.9 L2038.5,1565.5 L2039.5,1570.6 L2040.5,1565.2 L2041.5,1574.7 L2042.5,1568.1 L2043.5,1574.7 L2044.5,1571.6 L2045.5,1573 L2046.5,1568.4 L2047.5,1573.4 L2048.5,1566.1 L2049.5,1573.4 L2050.5,1568.7 L2051.5,1573.8 L2052.5,1564.3 L2053.5,1575.1 L2054.5,1570.4 L2055.5,1573.7 L2056.5,1569.6 L2057.5,1576.1 L2058.5,1565.7 L2059.5,1574.8 L2060.5,1565.7 L2061.5,1574.3 L2062.5,1571.6 L2063.5,1576.9 L2064.5,1568.1 L2065.5,1573.7 L2066.5,1558.8 L2067.4,1561.1 L2067.5,1555 L2068.5,1565.9 L2069.5,1565.7 L2070.5,1573.4 L2071.5,1571.5 L2072.5,1573.5 L2073.5,1568.9 L2074.5,1572.1 L2075.5,1567 L2076.5,1574.1 L2077.5,1568.6 L2078.5,1572.8 L2079.5,1570.5 L2080.5,1576.4 L2081.5,1569.7 L2082.5,1575.4 L2083.5,1565.2 L2084.5,1571.4 L2085.5,1566.5 L2086.5,1572.7 L2087.5,1568.8 L2088.5,1568.5 L2089.5,1559.8 L2090.4,1561.1 L2090.5,1557.3 L2091.5,1567.6 L2092.5,1564.3 L2093.5,1572.6 L2094.6,1566.3 L2095.6,1571 L2096.6,1564.4 L2097.6,1573.4 L2098.6,1564.8 L2099.6,1569.1 L2100.6,1565.8 L2101.6,1571.4 L2102.6,1566.1 L2103.6,1569.1 L2104.6,1563 L2105.6,1570.2 L2106.6,1567.5 L2107.6,1572.9 L2108.6,1563.4 L2109.6,1572.4 L2110.6,1564.6 L2111.6,1572.7 L2112.6,1563.4 L2113.6,1571.6 L2114.6,1566.5 L2115.6,1571.8 L2116.6,1564.7 L2117.6,1574.2 L2118.6,1564.7 L2119.6,1572.9 L2120.6,1567.1 L2121.6,1572.6 L2122.6,1566.3 L2123.6,1574.2 L2124.6,1567.7 L2125.6,1573.3 L2126.6,1560.5 L2127.6,1573.1 L2128.6,1568.7 L2129.6,1571.7 L2130.6,1565.7 L2131.6,1567 L2132.6,1555.9 L2133.4,1558.6 L2133.6,1552.5 L2134.6,1566.1 L2135.6,1565.2 L2136.6,1571.4 L2137.6,1563.9 L2138.6,1569.4 L2139.6,1562.2 L2140.6,1568.6 L2141.6,1561.6 L2142.6,1569.5 L2143.6,1562.6 L2144.6,1572.3 L2145.6,1563.1 L2146.6,1567.4 L2147.6,1561.2 L2148.6,1568 L2149.6,1566.8 L2150.6,1572.1 L2151.6,1560.3 L2152.6,1570.6 L2153.6,1566.6 L2154.6,1569.8 L2155.6,1560 L2156.6,1566.6 L2157.6,1559.5 L2158.6,1561.6 L2159.6,1547.8 L2160.6,1530 L2161.6,1492.8 L2162.4,1486 L2162.6,1483.5 L2163.6,1513.3 L2164.6,1536.8 L2165.6,1556.3 L2166.6,1559.5 L2167.6,1568.5 L2168.6,1563.1 L2169.6,1569.8 L2170.6,1565.1 L2171.6,1574.4 L2172.6,1569.2 L2173.6,1573.5 L2174.6,1564.6 L2175.6,1573.7 L2176.6,1565.4 L2177.6,1570.5 L2178.6,1570.2 L2179.6,1571.7 L2180.6,1569.9 L2181.6,1574.2 L2182.6,1563.7 L2183.6,1573.8 L2184.6,1565.6 L2185.6,1573.8 L2186.6,1566.5 L2187.6,1571.9 L2188.6,1570 L2189.6,1575 L2190.6,1565.9 L2191.6,1575.2 L2192.6,1568.5 L2193.6,1574.5 L2194.6,1569.4 L2195.6,1572.6 L2196.6,1569.4 L2197.6,1577.6 L2198.6,1566 L2199.6,1572.7 L2200.6,1567.1 L2201.6,1576.7 L2202.6,1568.4 L2203.6,1573.4 L2204.6,1567.7 L2205.6,1570.6 L2206.6,1561.7 L2207.6,1562.9 L2208.6,1542.9 L2209.6,1529.2 L2210.3,1521.1 L2210.6,1526.3 L2211.6,1530.6 L2212.6,1557.3 L2213.6,1559.5 L2214.6,1569.5 L2215.6,1564.5 L2216.6,1574.1 L2217.6,1568.2 L2218.6,1572.7 L2219.6,1569.8 L2220.6,1576.2 L2221.6,1570.5 L2222.6,1571.9 L2223.6,1570.2 L2224.6,1574.8 L2225.7,1565.1 L2226.7,1573.2 L2227.7,1563.8 L2228.7,1571.2 L2229.7,1566.2 L2230.7,1569.2 L2231.7,1562.7 L2232.7,1570.5 L2233.7,1563.3 L2234.7,1571.9 L2235.7,1565.1 L2236.7,1569.9 L2237.7,1566.1 L2238.7,1575.5 L2239.7,1567.3 L2240.7,1576.5 L2241.7,1570.5 L2242.7,1573.1 L2243.7,1569.5 L2244.7,1576.3 L2245.7,1566.9 L2246.7,1576.6 L2247.7,1571.2 L2248.7,1576.7 L2249.7,1567 L2250.7,1574.8 L2251.7,1568.4 L2252.7,1576.9 L2253.7,1566 L2254.7,1578 L2255.7,1571.3 L2256.7,1578.6 L2257.7,1570.8 L2258.7,1578.4 L2259.7,1568.3 L2260.7,1577 L2261.7,1571.4 L2262.7,1574.2 L2263.7,1567.3 L2264.7,1573.1 L2265.7,1570.2 L2266.7,1573.2 L2267.7,1569.2 L2268.7,1575.8 L2269.7,1569.2 L2270.7,1575.7 L2271.7,1565.6 L2272.7,1576.6 L2273.7,1570 L2274.7,1573.4 L2275.7,1568.8 L2276.7,1575 L2277.7,1565.3 L2278.7,1575.5 L2279.7,1565.3 L2280.7,1573 L2281.7,1566.6 L2282.7,1571.6 L2283.7,1568.3 L2284.7,1575.8 L2285.7,1568.2 L2286.7,1575.1 L2287.7,1571.5 L2288.7,1576.2 L2289.7,1571.7 L2290.7,1575.2" stroke="#0a0a0a" stroke-width="4.3" fill="none" stroke-linejoin="round"/>
<rect x="1373" y="970.5" width="918" height="675.8" fill="none" stroke="#141414" stroke-width="5"/>
<path d="M1373,1646 V1661.3 M1438.5,1646 V1655.8 M1504.1,1646 V1661.3 M1569.7,1646 V1655.8 M1635.2,1646 V1661.3 M1700.8,1646 V1655.8 M1766.3,1646 V1661.3 M1831.8,1646 V1655.8 M1897.4,1646 V1661.3 M1962.9,1646 V1655.8 M2028.5,1646 V1661.3 M2094.1,1646 V1655.8 M2159.6,1646 V1661.3 M2225.2,1646 V1655.8 M2290.7,1646 V1661.3" stroke="#141414" stroke-width="3.5" fill="none"/>
<text x="1373" y="1700" font-family="'Liberation Sans', Arial, sans-serif" font-size="40.5" font-weight="normal" fill="#1a1a1a" text-anchor="middle" >10</text>
<text x="1504.1" y="1700" font-family="'Liberation Sans', Arial, sans-serif" font-size="40.5" font-weight="normal" fill="#1a1a1a" text-anchor="middle" >20</text>
<text x="1635.2" y="1700" font-family="'Liberation Sans', Arial, sans-serif" font-size="40.5" font-weight="normal" fill="#1a1a1a" text-anchor="middle" >30</text>
<text x="1766.3" y="1700" font-family="'Liberation Sans', Arial, sans-serif" font-size="40.5" font-weight="normal" fill="#1a1a1a" text-anchor="middle" >40</text>
<text x="1897.4" y="1700" font-family="'Liberation Sans', Arial, sans-serif" font-size="40.5" font-weight="normal" fill="#1a1a1a" text-anchor="middle" >50</text>
<text x="2028.5" y="1700" font-family="'Liberation Sans', Arial, sans-serif" font-size="40.5" font-weight="normal" fill="#1a1a1a" text-anchor="middle" >60</text>
<text x="2159.6" y="1700" font-family="'Liberation Sans', Arial, sans-serif" font-size="40.5" font-weight="normal" fill="#1a1a1a" text-anchor="middle" >70</text>
<text x="2290.7" y="1700" font-family="'Liberation Sans', Arial, sans-serif" font-size="40.5" font-weight="normal" fill="#1a1a1a" text-anchor="middle" >80</text>
<text x="1698" y="1782.5" font-family="'Liberation Sans', Arial, sans-serif" font-size="53" fill="#111">2<tspan font-family="'Liberation Serif', 'Times New Roman', serif" font-size="47.2">θ</tspan>(degree)</text>
<text transform="translate(1316.5,1342) rotate(-90)" font-family="'Liberation Sans', Arial, sans-serif" font-size="53" font-weight="normal" fill="#111" text-anchor="middle">Intensity(a.u.)</text>
<text x="1231.9" y="1052.8" font-family="'Liberation Sans', Arial, sans-serif" font-size="83" font-weight="bold" fill="#000" text-anchor="start" >(d)</text>
<rect x="1941.8" y="998.1" width="321.1" height="79" fill="#fff" stroke="#b3afae" stroke-width="5"/>
<text x="1965" y="1053.2" font-family="'Liberation Serif', 'Times New Roman', serif" font-size="47" font-weight="bold" fill="#111">MnO<tspan font-size="29" dy="9">X</tspan><tspan dy="-9" font-weight="normal">@</tspan>C-N</text>
<rect x="2037" y="1093" width="31" height="31" fill="#ff0000" stroke="#3b4a8c" stroke-width="2.2"/>
<text x="2083" y="1124.8" font-family="'Liberation Sans', Arial, sans-serif" font-size="47" font-weight="bold" fill="#0d0d0d" text-anchor="start" >MnO</text>
<rect x="2042" y="1157" width="29.5" height="32" fill="#00b0f0" stroke="#2f5597" stroke-width="2.2"/>
<text x="2078" y="1190" font-family="'Liberation Sans', Arial, sans-serif" font-size="49" font-weight="bold" fill="#0d0d0d">Mn<tspan font-size="30" font-weight="normal" dy="8">3</tspan><tspan dy="-8">O</tspan><tspan font-size="30" font-weight="normal" dy="8">4</tspan></text>
<text transform="translate(1689.2,1235.2) rotate(90)" font-family="'Liberation Sans', Arial, sans-serif" font-size="34.5" font-weight="bold" fill="#fa0a0a" text-anchor="middle">(111)</text>
<text transform="translate(1786.2,1034.2) rotate(90)" font-family="'Liberation Sans', Arial, sans-serif" font-size="34.5" font-weight="bold" fill="#fa0a0a" text-anchor="middle">(200)</text>
<text transform="translate(2002.7,1277.9) rotate(90)" font-family="'Liberation Sans', Arial, sans-serif" font-size="34.5" font-weight="bold" fill="#fa0a0a" text-anchor="middle">(220)</text>
<text transform="translate(2152.8,1440.9) rotate(90)" font-family="'Liberation Sans', Arial, sans-serif" font-size="34.5" font-weight="bold" fill="#fa0a0a" text-anchor="middle">(311)</text>
<text transform="translate(2199.8,1477.4) rotate(90)" font-family="'Liberation Sans', Arial, sans-serif" font-size="34.5" font-weight="bold" fill="#fa0a0a" text-anchor="middle">(222)</text>
<text transform="translate(1470.8,1508.8) rotate(90)" font-family="'Liberation Sans', Arial, sans-serif" font-size="27.5" font-weight="normal" fill="#1aa3e8" text-anchor="middle" stroke="#1aa3e8" stroke-width="0.8">(101)</text>
<text transform="translate(1609.8,1520.1) rotate(90)" font-family="'Liberation Sans', Arial, sans-serif" font-size="27.5" font-weight="normal" fill="#1aa3e8" text-anchor="middle" stroke="#1aa3e8" stroke-width="0.8">(112)</text>
<text transform="translate(1658.8,1492.3) rotate(90)" font-family="'Liberation Sans', Arial, sans-serif" font-size="27.5" font-weight="normal" fill="#1aa3e8" text-anchor="middle" stroke="#1aa3e8" stroke-width="0.8">(103)</text>
<text transform="translate(1712.3,1485.2) rotate(90)" font-family="'Liberation Sans', Arial, sans-serif" font-size="27.5" font-weight="normal" fill="#1aa3e8" text-anchor="middle" stroke="#1aa3e8" stroke-width="0.8">(211)</text>
<text transform="translate(1813.6,1515.1) rotate(90)" font-family="'Liberation Sans', Arial, sans-serif" font-size="27.5" font-weight="normal" fill="#1aa3e8" text-anchor="middle" stroke="#1aa3e8" stroke-width="0.8">(220)</text>
<text transform="translate(2026.3,1506.1) rotate(90)" font-family="'Liberation Sans', Arial, sans-serif" font-size="27.5" font-weight="normal" fill="#1aa3e8" text-anchor="middle" stroke="#1aa3e8" stroke-width="0.8">(224)</text>
<text transform="translate(2084.8,1523) rotate(90)" font-family="'Liberation Sans', Arial, sans-serif" font-size="27.5" font-weight="normal" fill="#1aa3e8" text-anchor="middle" stroke="#1aa3e8" stroke-width="0.8">(400)</text></svg>
</body></html>
